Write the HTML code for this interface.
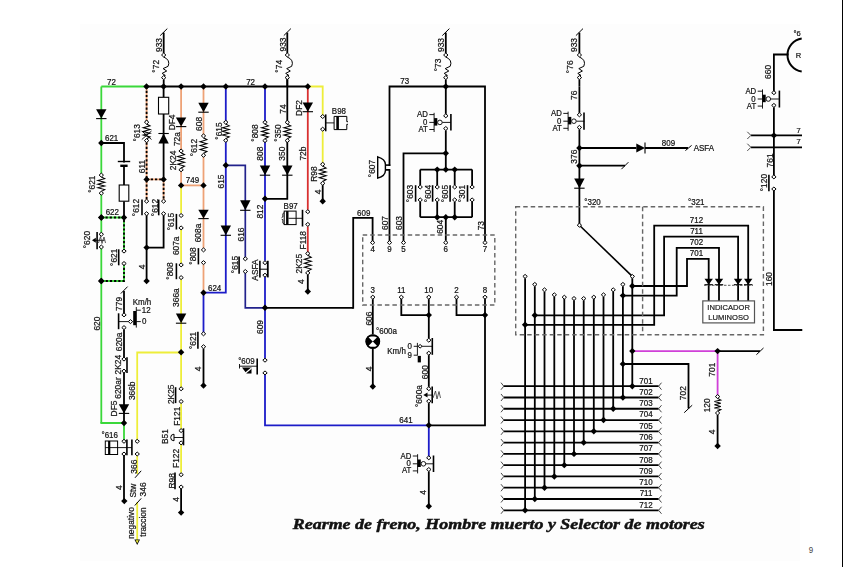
<!DOCTYPE html>
<html><head><meta charset="utf-8"><title>Schematic</title>
<style>html,body{margin:0;padding:0;background:#fff;width:843px;height:567px;overflow:hidden}
svg{display:block;font-family:"Liberation Sans",sans-serif}</style></head>
<body>
<svg width="843" height="567" viewBox="0 0 843 567" font-family="Liberation Sans, sans-serif">
<rect x="0" y="0" width="843" height="567" fill="#fff"/>
<rect x="80" y="24" width="720" height="537" fill="#fdfdfd"/>
<line x1="101.3" y1="86.5" x2="146.5" y2="86.5" stroke="#3ad83a" stroke-width="1.8" stroke-linecap="butt" />
<line x1="146.5" y1="86.5" x2="308.2" y2="86.5" stroke="#000" stroke-width="1.8" stroke-linecap="butt" />
<polyline points="308.2,86.5 322.7,86.5 322.7,116.5" fill="none" stroke="#eeee3a" stroke-width="1.8" stroke-linejoin="miter" stroke-linecap="square" />
<line x1="163.7" y1="32.6" x2="163.7" y2="53.3" stroke="#000" stroke-width="1.8" stroke-linecap="butt" />
<line x1="163.7" y1="79.5" x2="163.7" y2="86.5" stroke="#000" stroke-width="1.8" stroke-linecap="butt" />
<line x1="287.3" y1="32.6" x2="287.3" y2="53.3" stroke="#000" stroke-width="1.8" stroke-linecap="butt" />
<line x1="287.3" y1="79.5" x2="287.3" y2="86.5" stroke="#000" stroke-width="1.8" stroke-linecap="butt" />
<line x1="101.3" y1="86.5" x2="101.3" y2="233.8" stroke="#3ad83a" stroke-width="1.8" stroke-linecap="butt" />
<line x1="101.3" y1="246.8" x2="101.3" y2="423" stroke="#3ad83a" stroke-width="1.8" stroke-linecap="butt" />
<polyline points="101.3,423 124,423 124,441.3" fill="none" stroke="#3ad83a" stroke-width="1.8" stroke-linejoin="miter" stroke-linecap="square" />
<polyline points="101.3,143 124,143 124,161.5" fill="none" stroke="#000" stroke-width="1.8" stroke-linejoin="miter" stroke-linecap="square" />
<line x1="120.3" y1="165.8" x2="127.6" y2="165.8" stroke="#000" stroke-width="2.4" stroke-linecap="butt" />
<line x1="124" y1="166" x2="124" y2="185" stroke="#000" stroke-width="1.8" stroke-linecap="butt" />
<line x1="124" y1="201.2" x2="124" y2="217.5" stroke="#000" stroke-width="1.8" stroke-linecap="butt" />
<polyline points="101.3,217.5 124,217.5 124,251.1" fill="none" stroke="#3ad83a" stroke-width="1.8" stroke-linejoin="miter" stroke-linecap="square" />
<polyline points="101.3,217.5 124,217.5 124,251.1" fill="none" stroke="#000" stroke-width="1.8" stroke-dasharray="2.2 2" stroke-linecap="butt"/>
<polyline points="124,263.5 124,281 101.3,281" fill="none" stroke="#3ad83a" stroke-width="1.8" stroke-linejoin="miter" stroke-linecap="square" />
<polyline points="124,263.5 124,281 101.3,281" fill="none" stroke="#000" stroke-width="1.8" stroke-dasharray="2.2 2" stroke-linecap="butt"/>
<line x1="124" y1="291" x2="124" y2="313.1" stroke="#000" stroke-width="1.8" stroke-linecap="butt" />
<line x1="124" y1="329.4" x2="124" y2="357.3" stroke="#000" stroke-width="1.8" stroke-linecap="butt" />
<line x1="124" y1="372.9" x2="124" y2="423" stroke="#000" stroke-width="1.8" stroke-linecap="butt" />
<line x1="124" y1="455.8" x2="124" y2="501.1" stroke="#000" stroke-width="1.8" stroke-linecap="butt" />
<polyline points="181.1,352.5 137.2,352.5 137.2,439.4" fill="none" stroke="#eeee3a" stroke-width="1.8" stroke-linejoin="miter" stroke-linecap="square" />
<line x1="137.2" y1="455.9" x2="137.2" y2="474" stroke="#eeee3a" stroke-width="1.8" stroke-linecap="butt" />
<line x1="137.2" y1="502" x2="137.2" y2="541" stroke="#eeee3a" stroke-width="1.8" stroke-linecap="butt" />
<polyline points="146.6,86.5 146.6,122.2" fill="none" stroke="#eea276" stroke-width="1.8" stroke-linejoin="miter" stroke-linecap="square" />
<polyline points="146.6,86.5 146.6,122.2" fill="none" stroke="#000" stroke-width="1.8" stroke-dasharray="2.2 2" stroke-linecap="butt"/>
<polyline points="146.6,142.5 146.6,199.3" fill="none" stroke="#eea276" stroke-width="1.8" stroke-linejoin="miter" stroke-linecap="square" />
<polyline points="146.6,142.5 146.6,199.3" fill="none" stroke="#000" stroke-width="1.8" stroke-dasharray="2.2 2" stroke-linecap="butt"/>
<polyline points="146.6,179.4 163.6,179.4" fill="none" stroke="#eea276" stroke-width="1.8" stroke-linejoin="miter" stroke-linecap="square" />
<polyline points="146.6,179.4 163.6,179.4" fill="none" stroke="#000" stroke-width="1.8" stroke-dasharray="2.2 2" stroke-linecap="butt"/>
<polyline points="163.6,179.4 163.6,199.3" fill="none" stroke="#eea276" stroke-width="1.8" stroke-linejoin="miter" stroke-linecap="square" />
<polyline points="163.6,179.4 163.6,199.3" fill="none" stroke="#000" stroke-width="1.8" stroke-dasharray="2.2 2" stroke-linecap="butt"/>
<polyline points="146.6,215.6 146.6,281.1" fill="none" stroke="#000" stroke-width="1.8" stroke-linejoin="miter" stroke-linecap="square" />
<polyline points="146.6,247.6 163.6,247.6 163.6,215.6" fill="none" stroke="#000" stroke-width="1.8" stroke-linejoin="miter" stroke-linecap="square" />
<line x1="163.6" y1="86.5" x2="163.6" y2="97.2" stroke="#000" stroke-width="1.8" stroke-linecap="butt" />
<line x1="163.6" y1="114" x2="163.6" y2="179.4" stroke="#000" stroke-width="1.8" stroke-linecap="butt" />
<line x1="181.1" y1="86.5" x2="181.1" y2="185.4" stroke="#eea276" stroke-width="1.8" stroke-linecap="butt" />
<line x1="181.1" y1="185.4" x2="203.5" y2="185.4" stroke="#eea276" stroke-width="1.8" stroke-linecap="butt" />
<line x1="181.1" y1="185.4" x2="181.1" y2="213.6" stroke="#eeee3a" stroke-width="1.8" stroke-linecap="butt" />
<line x1="181.1" y1="229.8" x2="181.1" y2="263" stroke="#eeee3a" stroke-width="1.8" stroke-linecap="butt" />
<line x1="181.1" y1="279.5" x2="181.1" y2="386.9" stroke="#eeee3a" stroke-width="1.8" stroke-linecap="butt" />
<line x1="181.1" y1="403.4" x2="181.1" y2="428.7" stroke="#eeee3a" stroke-width="1.8" stroke-linecap="butt" />
<line x1="181.1" y1="444.8" x2="181.1" y2="472.8" stroke="#eeee3a" stroke-width="1.8" stroke-linecap="butt" />
<line x1="181.1" y1="488.8" x2="181.1" y2="512.6" stroke="#000" stroke-width="1.8" stroke-linecap="butt" />
<line x1="203.5" y1="86.5" x2="203.5" y2="248" stroke="#eea276" stroke-width="1.8" stroke-linecap="butt" />
<line x1="203.5" y1="264.5" x2="203.5" y2="292.7" stroke="#eea276" stroke-width="1.8" stroke-linecap="butt" />
<polyline points="225.8,86.5 225.8,292.7 203.5,292.7 203.5,332" fill="none" stroke="#1c1cc8" stroke-width="1.8" stroke-linejoin="miter" stroke-linecap="square" />
<polyline points="225.8,165.3 245.3,165.3 245.3,256.9" fill="none" stroke="#22228c" stroke-width="1.7" stroke-linejoin="miter" stroke-linecap="square" />
<polyline points="245.3,273.4 245.3,307.8 265,307.8" fill="none" stroke="#22228c" stroke-width="1.7" stroke-linejoin="miter" stroke-linecap="square" />
<line x1="203.5" y1="348.5" x2="203.5" y2="385.6" stroke="#000" stroke-width="1.8" stroke-linecap="butt" />
<line x1="265" y1="86.5" x2="265" y2="260.8" stroke="#1c1cc8" stroke-width="1.8" stroke-linecap="butt" />
<line x1="265" y1="277.1" x2="265" y2="358.3" stroke="#1c1cc8" stroke-width="1.8" stroke-linecap="butt" />
<polyline points="265,374.8 265,425.3 428.8,425.3 428.8,455.9" fill="none" stroke="#1c1cc8" stroke-width="1.8" stroke-linejoin="miter" stroke-linecap="square" />
<line x1="267.8" y1="260.8" x2="267.8" y2="277.4" stroke="#000" stroke-width="1.8" stroke-linecap="butt" />
<polyline points="265,198.8 287.3,198.8 287.3,79.5" fill="none" stroke="#000" stroke-width="1.8" stroke-linejoin="miter" stroke-linecap="square" />
<line x1="307.8" y1="86.5" x2="307.8" y2="209.8" stroke="#d83030" stroke-width="1.8" stroke-linecap="butt" />
<line x1="307.8" y1="226.3" x2="307.8" y2="253.5" stroke="#d83030" stroke-width="1.8" stroke-linecap="butt" />
<line x1="307.8" y1="274.7" x2="307.8" y2="291.5" stroke="#000" stroke-width="1.8" stroke-linecap="butt" />
<line x1="322.7" y1="131.1" x2="322.7" y2="164.3" stroke="#eeee3a" stroke-width="1.8" stroke-linecap="butt" />
<line x1="322.7" y1="185.1" x2="322.7" y2="201.2" stroke="#000" stroke-width="1.8" stroke-linecap="butt" />
<line x1="445.8" y1="32.6" x2="445.8" y2="53.3" stroke="#000" stroke-width="1.8" stroke-linecap="butt" />
<line x1="445.8" y1="79.5" x2="445.8" y2="86.5" stroke="#000" stroke-width="1.8" stroke-linecap="butt" />
<polyline points="389.5,165.1 389.5,86.5 485,86.5 485,240.7" fill="none" stroke="#000" stroke-width="1.8" stroke-linejoin="miter" stroke-linecap="square" />
<polyline points="389.5,165.1 385.4,165.1" fill="none" stroke="#000" stroke-width="1.6" stroke-linejoin="miter" stroke-linecap="square" />
<polyline points="385.4,169.8 389.5,169.8 389.5,240.7" fill="none" stroke="#000" stroke-width="1.8" stroke-linejoin="miter" stroke-linecap="square" />
<line x1="445.8" y1="86.5" x2="445.8" y2="113.9" stroke="#000" stroke-width="1.8" stroke-linecap="butt" />
<line x1="445.8" y1="130.4" x2="445.8" y2="169.6" stroke="#000" stroke-width="1.8" stroke-linecap="butt" />
<polyline points="445.8,153.3 403.5,153.3 403.5,240.7" fill="none" stroke="#000" stroke-width="1.8" stroke-linejoin="miter" stroke-linecap="square" />
<line x1="420.2" y1="169.6" x2="472.1" y2="169.6" stroke="#000" stroke-width="1.8" stroke-linecap="butt" />
<line x1="420.2" y1="217.2" x2="472.1" y2="217.2" stroke="#000" stroke-width="1.8" stroke-linecap="butt" />
<line x1="420.2" y1="169.6" x2="420.2" y2="185.1" stroke="#000" stroke-width="1.8" stroke-linecap="butt" />
<line x1="420.2" y1="201.8" x2="420.2" y2="217.2" stroke="#000" stroke-width="1.8" stroke-linecap="butt" />
<line x1="437.2" y1="169.6" x2="437.2" y2="185.1" stroke="#000" stroke-width="1.8" stroke-linecap="butt" />
<line x1="437.2" y1="201.8" x2="437.2" y2="217.2" stroke="#000" stroke-width="1.8" stroke-linecap="butt" />
<line x1="454.7" y1="169.6" x2="454.7" y2="185.1" stroke="#000" stroke-width="1.8" stroke-linecap="butt" />
<line x1="454.7" y1="201.8" x2="454.7" y2="217.2" stroke="#000" stroke-width="1.8" stroke-linecap="butt" />
<line x1="472.1" y1="169.6" x2="472.1" y2="185.1" stroke="#000" stroke-width="1.8" stroke-linecap="butt" />
<line x1="472.1" y1="201.8" x2="472.1" y2="217.2" stroke="#000" stroke-width="1.8" stroke-linecap="butt" />
<line x1="445.8" y1="217.2" x2="445.8" y2="240.7" stroke="#000" stroke-width="1.8" stroke-linecap="butt" />
<polyline points="353.2,307.8 353.2,217.9 372.6,217.9 372.6,240.7" fill="none" stroke="#000" stroke-width="1.8" stroke-linejoin="miter" stroke-linecap="square" />
<line x1="265" y1="307.8" x2="353.2" y2="307.8" stroke="#000" stroke-width="1.8" stroke-linecap="butt" />
<line x1="372.8" y1="299.1" x2="372.8" y2="334" stroke="#000" stroke-width="1.8" stroke-linecap="butt" />
<line x1="372.8" y1="349" x2="372.8" y2="386.5" stroke="#000" stroke-width="1.8" stroke-linecap="butt" />
<polyline points="401.3,299.1 401.3,315.1 428.8,315.1" fill="none" stroke="#000" stroke-width="1.8" stroke-linejoin="miter" stroke-linecap="square" />
<line x1="428.8" y1="299.1" x2="428.8" y2="338.3" stroke="#000" stroke-width="1.8" stroke-linecap="butt" />
<line x1="428.8" y1="355.1" x2="428.8" y2="386.8" stroke="#000" stroke-width="1.8" stroke-linecap="butt" />
<line x1="428.8" y1="403.1" x2="428.8" y2="425.3" stroke="#000" stroke-width="1.8" stroke-linecap="butt" />
<polyline points="428.8,425.3 485,425.3 485,299.1" fill="none" stroke="#000" stroke-width="1.8" stroke-linejoin="miter" stroke-linecap="square" />
<polyline points="456.5,299.1 456.5,315.1 485,315.1" fill="none" stroke="#000" stroke-width="1.8" stroke-linejoin="miter" stroke-linecap="square" />
<line x1="428.8" y1="471.4" x2="428.8" y2="506.3" stroke="#000" stroke-width="1.8" stroke-linecap="butt" />
<line x1="579.4" y1="32.6" x2="579.4" y2="53.3" stroke="#000" stroke-width="1.8" stroke-linecap="butt" />
<line x1="579.4" y1="79.5" x2="579.4" y2="86.5" stroke="#000" stroke-width="1.8" stroke-linecap="butt" />
<line x1="579.4" y1="86.5" x2="579.4" y2="112.9" stroke="#000" stroke-width="1.8" stroke-linecap="butt" />
<line x1="579.4" y1="129.3" x2="579.4" y2="225.2" stroke="#000" stroke-width="1.8" stroke-linecap="butt" />
<line x1="579.4" y1="148" x2="636.3" y2="148" stroke="#000" stroke-width="1.8" stroke-linecap="butt" />
<line x1="645" y1="148" x2="688" y2="148" stroke="#000" stroke-width="1.8" stroke-linecap="butt" />
<line x1="579.4" y1="165.7" x2="625" y2="165.7" stroke="#000" stroke-width="1.8" stroke-linecap="butt" />
<line x1="525.1" y1="278.2" x2="525.1" y2="510.28" stroke="#000" stroke-width="1.8" stroke-linecap="butt" />
<line x1="534.8" y1="286.2" x2="534.8" y2="499" stroke="#000" stroke-width="1.8" stroke-linecap="butt" />
<line x1="544.5" y1="291.6" x2="544.5" y2="487.72" stroke="#000" stroke-width="1.8" stroke-linecap="butt" />
<line x1="554.3" y1="296.6" x2="554.3" y2="476.44" stroke="#000" stroke-width="1.8" stroke-linecap="butt" />
<line x1="564.3" y1="299" x2="564.3" y2="465.16" stroke="#000" stroke-width="1.8" stroke-linecap="butt" />
<line x1="574" y1="300.3" x2="574" y2="453.88" stroke="#000" stroke-width="1.8" stroke-linecap="butt" />
<line x1="583.7" y1="300.3" x2="583.7" y2="442.6" stroke="#000" stroke-width="1.8" stroke-linecap="butt" />
<line x1="593.8" y1="299" x2="593.8" y2="431.32" stroke="#000" stroke-width="1.8" stroke-linecap="butt" />
<line x1="603.5" y1="296.6" x2="603.5" y2="420.04" stroke="#000" stroke-width="1.8" stroke-linecap="butt" />
<line x1="613.2" y1="291.6" x2="613.2" y2="408.76" stroke="#000" stroke-width="1.8" stroke-linecap="butt" />
<line x1="622.9" y1="286.2" x2="622.9" y2="397.48" stroke="#000" stroke-width="1.8" stroke-linecap="butt" />
<line x1="632.3" y1="278.2" x2="632.3" y2="386.2" stroke="#000" stroke-width="1.8" stroke-linecap="butt" />
<line x1="503.8" y1="386.2" x2="658.6" y2="386.2" stroke="#000" stroke-width="1.8" stroke-linecap="butt" />
<line x1="503.8" y1="397.48" x2="658.6" y2="397.48" stroke="#000" stroke-width="1.8" stroke-linecap="butt" />
<line x1="503.8" y1="408.76" x2="658.6" y2="408.76" stroke="#000" stroke-width="1.8" stroke-linecap="butt" />
<line x1="503.8" y1="420.04" x2="658.6" y2="420.04" stroke="#000" stroke-width="1.8" stroke-linecap="butt" />
<line x1="503.8" y1="431.32" x2="658.6" y2="431.32" stroke="#000" stroke-width="1.8" stroke-linecap="butt" />
<line x1="503.8" y1="442.6" x2="658.6" y2="442.6" stroke="#000" stroke-width="1.8" stroke-linecap="butt" />
<line x1="503.8" y1="453.88" x2="658.6" y2="453.88" stroke="#000" stroke-width="1.8" stroke-linecap="butt" />
<line x1="503.8" y1="465.16" x2="658.6" y2="465.16" stroke="#000" stroke-width="1.8" stroke-linecap="butt" />
<line x1="503.8" y1="476.44" x2="658.6" y2="476.44" stroke="#000" stroke-width="1.8" stroke-linecap="butt" />
<line x1="503.8" y1="487.72" x2="658.6" y2="487.72" stroke="#000" stroke-width="1.8" stroke-linecap="butt" />
<line x1="503.8" y1="499" x2="658.6" y2="499" stroke="#000" stroke-width="1.8" stroke-linecap="butt" />
<line x1="503.8" y1="510.28" x2="658.6" y2="510.28" stroke="#000" stroke-width="1.8" stroke-linecap="butt" />
<polyline points="632.3,286 687,286 687,258.8 708.7,258.8 708.7,300.9" fill="none" stroke="#000" stroke-width="1.8" stroke-linejoin="miter" stroke-linecap="square" />
<polyline points="622.9,295.6 676.7,295.6 676.7,247.9 719,247.9 719,300.9" fill="none" stroke="#000" stroke-width="1.8" stroke-linejoin="miter" stroke-linecap="square" />
<polyline points="534.8,315.3 664.1,315.3 664.1,236.6 738.1,236.6 738.1,300.9" fill="none" stroke="#000" stroke-width="1.8" stroke-linejoin="miter" stroke-linecap="square" />
<polyline points="525.1,324.8 654.2,324.8 654.2,225.6 748.2,225.6 748.2,300.9" fill="none" stroke="#000" stroke-width="1.8" stroke-linejoin="miter" stroke-linecap="square" />
<polyline points="632.3,351.1 717.6,351.1 717.6,394.7" fill="none" stroke="#d040d8" stroke-width="1.8" stroke-linejoin="miter" stroke-linecap="square" />
<line x1="717.6" y1="351.1" x2="760" y2="351.1" stroke="#000" stroke-width="1.8" stroke-linecap="butt" />
<line x1="717.6" y1="414.8" x2="717.6" y2="446" stroke="#000" stroke-width="1.8" stroke-linecap="butt" />
<polyline points="622.9,364 688.5,364 688.5,407.5" fill="none" stroke="#000" stroke-width="1.8" stroke-linejoin="miter" stroke-linecap="square" />
<polyline points="773.9,90.8 773.9,54.5 787.7,54.5" fill="none" stroke="#000" stroke-width="1.8" stroke-linejoin="miter" stroke-linecap="square" />
<line x1="773.9" y1="107.3" x2="773.9" y2="175" stroke="#000" stroke-width="1.8" stroke-linecap="butt" />
<line x1="750.9" y1="135.4" x2="802" y2="135.4" stroke="#000" stroke-width="1.8" stroke-linecap="butt" />
<line x1="750.9" y1="147.3" x2="802" y2="147.3" stroke="#000" stroke-width="1.8" stroke-linecap="butt" />
<polyline points="773.9,190.9 773.9,330 802,330" fill="none" stroke="#000" stroke-width="1.8" stroke-linejoin="miter" stroke-linecap="square" />
<rect x="99.3" y="176.1" width="4" height="16.1" fill="#fff"/>
<rect x="144.6" y="123.2" width="4" height="16.4" fill="#fff"/>
<rect x="179.1" y="152" width="4" height="16.8" fill="#fff"/>
<rect x="201.5" y="136.9" width="4" height="17.4" fill="#fff"/>
<rect x="223.8" y="123.3" width="4" height="16.1" fill="#fff"/>
<rect x="263" y="123.3" width="4" height="16.3" fill="#fff"/>
<rect x="285.3" y="123.3" width="4" height="16.3" fill="#fff"/>
<rect x="305.8" y="254.5" width="4" height="17.4" fill="#fff"/>
<rect x="320.7" y="165.3" width="4" height="17" fill="#fff"/>
<rect x="715.6" y="397.6" width="4" height="14.4" fill="#fff"/>
<line x1="160.2" y1="35.6" x2="167.3" y2="28.6" stroke="#000" stroke-width="1" stroke-linecap="butt" />
<path d="M163.7,57 Q170.7,60 168.1,66.3 L163.1,68.6 L166.7,71 L162.1,73.4 L165.3,75.4 L163.7,76" fill="none" stroke="#000" stroke-width="1"/>
<line x1="283.8" y1="35.6" x2="290.9" y2="28.6" stroke="#000" stroke-width="1" stroke-linecap="butt" />
<path d="M287.3,57 Q294.3,60 291.7,66.3 L286.7,68.6 L290.3,71 L285.7,73.4 L288.9,75.4 L287.3,76" fill="none" stroke="#000" stroke-width="1"/>
<polygon points="96.1,109.3 106.5,109.3 101.3,118.6" fill="#000"/>
<line x1="96.1" y1="118.6" x2="106.5" y2="118.6" stroke="#000" stroke-width="1.1" stroke-linecap="butt" />
<polyline points="101.3,176.9 104.7,178.71 97.9,180.53 104.7,182.34 97.9,184.15 104.7,185.96 97.9,187.78 104.7,189.59 101.3,191.4" fill="none" stroke="#000" stroke-width="1.05"/>
<line x1="97.1" y1="232.1" x2="97.1" y2="249.2" stroke="#000" stroke-width="1.6" stroke-linecap="butt" />
<line x1="94.5" y1="240.3" x2="104.5" y2="240.3" stroke="#000" stroke-width="0.9" stroke-linecap="butt" />
<polygon points="92,240.3 95.8,237.8 95.8,242.8" fill="#000"/>
<path d="M98.5,243 L100.5,236.5 L102,243.5 L104,237 L105.5,243" fill="none" stroke="#333" stroke-width="0.8"/>
<line x1="117.8" y1="161.5" x2="130.2" y2="161.5" stroke="#000" stroke-width="1.4" stroke-linecap="butt" />
<rect x="119.2" y="185" width="9.6" height="16.2" fill="#fff" stroke="#000" stroke-width="1.1"/>
<line x1="118.7" y1="249.3" x2="118.7" y2="265.3" stroke="#000" stroke-width="1.6" stroke-linecap="butt" />
<line x1="120.8" y1="293.6" x2="127.6" y2="286.6" stroke="#000" stroke-width="1" stroke-linecap="butt" />
<line x1="118.6" y1="313.3" x2="118.6" y2="329.2" stroke="#000" stroke-width="1.6" stroke-linecap="butt" />
<line x1="118.6" y1="321.6" x2="128.6" y2="321.6" stroke="#000" stroke-width="0.9" stroke-linecap="butt" />
<line x1="136.3" y1="307" x2="136.3" y2="327.6" stroke="#000" stroke-width="0.9" stroke-linecap="butt" />
<rect x="133.2" y="311" width="3.1" height="14.2" fill="#000"/>
<line x1="136.3" y1="310.2" x2="140.8" y2="310.2" stroke="#000" stroke-width="0.9" stroke-linecap="butt" />
<line x1="136.3" y1="321.6" x2="140.8" y2="321.6" stroke="#000" stroke-width="0.9" stroke-linecap="butt" />
<line x1="127" y1="357.2" x2="127" y2="373" stroke="#000" stroke-width="1.6" stroke-linecap="butt" />
<polygon points="118.8,404.2 129.2,404.2 124,413.4" fill="#000"/>
<line x1="118.8" y1="413.4" x2="129.2" y2="413.4" stroke="#000" stroke-width="1.1" stroke-linecap="butt" />
<line x1="126.9" y1="439.4" x2="126.9" y2="455.3" stroke="#000" stroke-width="1.6" stroke-linecap="butt" />
<line x1="131.9" y1="439.4" x2="131.9" y2="455.3" stroke="#000" stroke-width="1.6" stroke-linecap="butt" />
<line x1="105.3" y1="447.6" x2="131.9" y2="447.6" stroke="#000" stroke-width="0.9" stroke-linecap="butt" />
<rect x="105.3" y="441" width="12.3" height="13.5" fill="none" stroke="#000" stroke-width="1"/>
<rect x="108.1" y="441" width="2.2" height="13.5" fill="#000"/>
<line x1="135" y1="477.8" x2="141.2" y2="470.8" stroke="#000" stroke-width="1" stroke-linecap="butt" />
<line x1="134.8" y1="505.5" x2="141.2" y2="498.4" stroke="#000" stroke-width="1" stroke-linecap="butt" />
<polygon points="134.4,539.5 140,539.5 137.2,545" fill="#000"/>
<polygon points="135.6,540.2 138.8,540.2 137.2,543.2" fill="#eeee3a"/>
<polyline points="146.6,124 150,125.85 143.2,127.7 150,129.55 143.2,131.4 150,133.25 143.2,135.1 150,136.95 146.6,138.8" fill="none" stroke="#000" stroke-width="1.05"/>
<line x1="141.8" y1="139.5" x2="151.5" y2="131" stroke="#000" stroke-width="0.9" stroke-linecap="butt" />
<line x1="141.8" y1="131" x2="151.5" y2="139.5" stroke="#000" stroke-width="0.9" stroke-linecap="butt" />
<line x1="142" y1="199.6" x2="142" y2="215.3" stroke="#000" stroke-width="1.6" stroke-linecap="butt" />
<line x1="158.7" y1="199.6" x2="158.7" y2="215.3" stroke="#000" stroke-width="1.6" stroke-linecap="butt" />
<rect x="158.5" y="97.3" width="10.2" height="16.7" fill="#fff" stroke="#000" stroke-width="1.1"/>
<polygon points="158.4,143.4 168.8,143.4 163.6,133.5" fill="#000"/>
<line x1="158.4" y1="133.5" x2="168.8" y2="133.5" stroke="#000" stroke-width="1.1" stroke-linecap="butt" />
<polygon points="175.9,117.4 186.3,117.4 181.1,126.6" fill="#000"/>
<line x1="175.9" y1="126.6" x2="186.3" y2="126.6" stroke="#000" stroke-width="1.1" stroke-linecap="butt" />
<polyline points="181.1,152.8 184.5,154.7 177.7,156.6 184.5,158.5 177.7,160.4 184.5,162.3 177.7,164.2 184.5,166.1 181.1,168" fill="none" stroke="#000" stroke-width="1.05"/>
<line x1="176.4" y1="213.9" x2="176.4" y2="229.5" stroke="#000" stroke-width="1.6" stroke-linecap="butt" />
<line x1="176.4" y1="263.3" x2="176.4" y2="279.2" stroke="#000" stroke-width="1.6" stroke-linecap="butt" />
<polygon points="175.9,313.5 186.3,313.5 181.1,323.2" fill="#000"/>
<line x1="175.9" y1="323.2" x2="186.3" y2="323.2" stroke="#000" stroke-width="1.1" stroke-linecap="butt" />
<line x1="175.6" y1="387.2" x2="175.6" y2="403.1" stroke="#000" stroke-width="1.6" stroke-linecap="butt" />
<line x1="183.5" y1="428.3" x2="183.5" y2="445.3" stroke="#000" stroke-width="1.6" stroke-linecap="butt" />
<line x1="174" y1="437.5" x2="183.5" y2="437.5" stroke="#000" stroke-width="0.9" stroke-linecap="butt" />
<path d="M174,434.2 A3.3,3.3 0 0 0 174,440.8 Z" fill="#fff" stroke="#000" stroke-width="1"/>
<line x1="175" y1="472.5" x2="175" y2="489.2" stroke="#000" stroke-width="1.6" stroke-linecap="butt" />
<polygon points="198.3,102.7 208.7,102.7 203.5,112.2" fill="#000"/>
<line x1="198.3" y1="112.2" x2="208.7" y2="112.2" stroke="#000" stroke-width="1.1" stroke-linecap="butt" />
<polyline points="203.5,137.7 206.9,139.68 200.1,141.65 206.9,143.63 200.1,145.6 206.9,147.58 200.1,149.55 206.9,151.53 203.5,153.5" fill="none" stroke="#000" stroke-width="1.05"/>
<polygon points="198.3,209.7 208.7,209.7 203.5,218.6" fill="#000"/>
<line x1="198.3" y1="218.6" x2="208.7" y2="218.6" stroke="#000" stroke-width="1.1" stroke-linecap="butt" />
<line x1="198.4" y1="248.1" x2="198.4" y2="264.4" stroke="#000" stroke-width="1.6" stroke-linecap="butt" />
<polyline points="225.8,124.1 229.2,125.91 222.4,127.72 229.2,129.54 222.4,131.35 229.2,133.16 222.4,134.97 229.2,136.79 225.8,138.6" fill="none" stroke="#000" stroke-width="1.05"/>
<polygon points="220.6,225.6 231,225.6 225.8,235.3" fill="#000"/>
<line x1="220.6" y1="235.3" x2="231" y2="235.3" stroke="#000" stroke-width="1.1" stroke-linecap="butt" />
<polygon points="240.1,200.2 250.5,200.2 245.3,210.3" fill="#000"/>
<line x1="240.1" y1="210.3" x2="250.5" y2="210.3" stroke="#000" stroke-width="1.1" stroke-linecap="butt" />
<line x1="239.1" y1="256.6" x2="239.1" y2="273.7" stroke="#000" stroke-width="1.6" stroke-linecap="butt" />
<line x1="197.9" y1="331.8" x2="197.9" y2="348.7" stroke="#000" stroke-width="1.6" stroke-linecap="butt" />
<polyline points="265,124.1 268.4,125.94 261.6,127.77 268.4,129.61 261.6,131.45 268.4,133.29 261.6,135.12 268.4,136.96 265,138.8" fill="none" stroke="#000" stroke-width="1.05"/>
<polygon points="259.8,165.6 270.2,165.6 265,175.2" fill="#000"/>
<line x1="259.8" y1="175.2" x2="270.2" y2="175.2" stroke="#000" stroke-width="1.1" stroke-linecap="butt" />
<line x1="259.9" y1="260.8" x2="259.9" y2="277.4" stroke="#000" stroke-width="1.6" stroke-linecap="butt" />
<line x1="259.9" y1="269.2" x2="267.8" y2="269.2" stroke="#000" stroke-width="1" stroke-linecap="butt" />
<line x1="257.2" y1="358.4" x2="257.2" y2="374.6" stroke="#000" stroke-width="1.6" stroke-linecap="butt" />
<line x1="239.5" y1="366.2" x2="257.2" y2="366.2" stroke="#000" stroke-width="0.9" stroke-linecap="butt" />
<line x1="239.5" y1="364" x2="239.5" y2="368.5" stroke="#000" stroke-width="0.9" stroke-linecap="butt" />
<polygon points="242,367.5 251.5,367.5 251.5,373.5 246.5,373.5" fill="#000"/>
<line x1="244.5" y1="374" x2="251.5" y2="368" stroke="#fff" stroke-width="1.2"/>
<polyline points="287.3,124.1 290.7,125.94 283.9,127.77 290.7,129.61 283.9,131.45 290.7,133.29 283.9,135.12 290.7,136.96 287.3,138.8" fill="none" stroke="#000" stroke-width="1.05"/>
<polygon points="282.1,165.6 292.5,165.6 287.3,175.2" fill="#000"/>
<line x1="282.1" y1="175.2" x2="292.5" y2="175.2" stroke="#000" stroke-width="1.1" stroke-linecap="butt" />
<polygon points="302.6,102.4 313,102.4 307.8,111.7" fill="#000"/>
<line x1="302.6" y1="111.7" x2="313" y2="111.7" stroke="#000" stroke-width="1.1" stroke-linecap="butt" />
<line x1="302.5" y1="209.8" x2="302.5" y2="226.5" stroke="#000" stroke-width="1.6" stroke-linecap="butt" />
<line x1="288.5" y1="218.3" x2="302.5" y2="218.3" stroke="#000" stroke-width="0.9" stroke-linecap="butt" />
<rect x="284.2" y="211.1" width="11.9" height="13.5" fill="none" stroke="#000" stroke-width="1"/>
<rect x="286.1" y="211.1" width="2.4" height="13.5" fill="#000"/>
<path d="M284.2,212.6 L282.9,213.6 V216.9 L281.7,217.4 M281.7,219.2 L282.9,219.7 V223.2 L284.2,224.2" fill="none" stroke="#000" stroke-width="0.9"/>
<polyline points="307.8,255.3 311.2,257.28 304.4,259.25 311.2,261.23 304.4,263.2 311.2,265.18 304.4,267.15 311.2,269.12 307.8,271.1" fill="none" stroke="#000" stroke-width="1.05"/>
<line x1="325.7" y1="114.4" x2="325.7" y2="131.3" stroke="#000" stroke-width="1.6" stroke-linecap="butt" />
<line x1="325.7" y1="122.9" x2="334.1" y2="122.9" stroke="#000" stroke-width="0.9" stroke-linecap="butt" />
<path d="M346.8,121.7 H348 M346.8,121.7 V116.4 H334.1 V129.6 H346.8 V124.3 H348" fill="none" stroke="#000" stroke-width="1"/>
<rect x="336.3" y="116.4" width="2.6" height="13.2" fill="#000"/>
<polyline points="322.7,166.1 326.1,168.03 319.3,169.95 326.1,171.88 319.3,173.8 326.1,175.73 319.3,177.65 326.1,179.58 322.7,181.5" fill="none" stroke="#000" stroke-width="1.05"/>
<line x1="442.3" y1="35.6" x2="449.4" y2="28.6" stroke="#000" stroke-width="1" stroke-linecap="butt" />
<path d="M445.8,57 Q452.8,60 450.2,66.3 L445.2,68.6 L448.8,71 L444.2,73.4 L447.4,75.4 L445.8,76" fill="none" stroke="#000" stroke-width="1"/>
<path d="M377.7,156.8 L377.7,178.1 Q385.4,176 385.4,170.5 L385.4,164.4 Q385.4,159 377.7,156.8 Z" fill="#fff" stroke="#000" stroke-width="1.4"/>
<line x1="450.9" y1="113.9" x2="450.9" y2="130.6" stroke="#000" stroke-width="1.6" stroke-linecap="butt" />
<line x1="434.1" y1="112.8" x2="434.1" y2="132" stroke="#000" stroke-width="0.9" stroke-linecap="butt" />
<line x1="429.3" y1="114.6" x2="434.1" y2="114.6" stroke="#000" stroke-width="0.9" stroke-linecap="butt" />
<line x1="429.3" y1="122.4" x2="434.1" y2="122.4" stroke="#000" stroke-width="0.9" stroke-linecap="butt" />
<line x1="429.3" y1="129.5" x2="434.1" y2="129.5" stroke="#000" stroke-width="0.9" stroke-linecap="butt" />
<rect x="434.1" y="118.1" width="3.2" height="7.5" fill="#000"/>
<line x1="442.2" y1="122.4" x2="450.8" y2="122.4" stroke="#000" stroke-width="0.9" stroke-linecap="butt" />
<line x1="415.6" y1="185.2" x2="415.6" y2="201.7" stroke="#000" stroke-width="1.6" stroke-linecap="butt" />
<line x1="432.6" y1="185.2" x2="432.6" y2="201.7" stroke="#000" stroke-width="1.6" stroke-linecap="butt" />
<line x1="450.1" y1="185.2" x2="450.1" y2="201.7" stroke="#000" stroke-width="1.6" stroke-linecap="butt" />
<line x1="467.5" y1="185.2" x2="467.5" y2="201.7" stroke="#000" stroke-width="1.6" stroke-linecap="butt" />
<rect x="362.7" y="235" width="132.1" height="70" fill="none" stroke="#666" stroke-width="1.4" stroke-dasharray="4.5 3"/>
<circle cx="372.8" cy="341.6" r="7.2" fill="#000"/>
<polygon points="367.7,336.5 377.9,336.5 372.8,341.6" fill="#fff"/>
<polygon points="367.7,346.7 377.9,346.7 372.8,341.6" fill="#fff"/>
<circle cx="372.8" cy="341.6" r="6.6" fill="none" stroke="#000" stroke-width="1.6"/>
<line x1="432.3" y1="338" x2="432.3" y2="354.8" stroke="#000" stroke-width="1.6" stroke-linecap="butt" />
<line x1="417.4" y1="342.9" x2="417.4" y2="355.6" stroke="#000" stroke-width="0.9" stroke-linecap="butt" />
<line x1="413.7" y1="346.3" x2="417.4" y2="346.3" stroke="#000" stroke-width="0.9" stroke-linecap="butt" />
<line x1="413.7" y1="355.2" x2="417.4" y2="355.2" stroke="#000" stroke-width="0.9" stroke-linecap="butt" />
<rect x="417.7" y="355.9" width="3.2" height="6.5" fill="#000"/>
<line x1="422" y1="346.3" x2="432.3" y2="346.3" stroke="#000" stroke-width="0.9" stroke-linecap="butt" />
<line x1="432.2" y1="386.6" x2="432.2" y2="403.3" stroke="#000" stroke-width="1.6" stroke-linecap="butt" />
<line x1="426" y1="395.1" x2="432.2" y2="395.1" stroke="#000" stroke-width="0.9" stroke-linecap="butt" />
<polygon points="423.3,395.1 427.5,392.6 427.5,397.6" fill="#000"/>
<path d="M433,398 L435.5,391 L437,399 L439,391.5 L440.5,398" fill="none" stroke="#333" stroke-width="0.8"/>
<line x1="433.5" y1="455.5" x2="433.5" y2="472" stroke="#000" stroke-width="1.6" stroke-linecap="butt" />
<line x1="417.6" y1="454.2" x2="417.6" y2="473.4" stroke="#000" stroke-width="0.9" stroke-linecap="butt" />
<line x1="412.8" y1="456" x2="417.6" y2="456" stroke="#000" stroke-width="0.9" stroke-linecap="butt" />
<line x1="412.8" y1="463.8" x2="417.6" y2="463.8" stroke="#000" stroke-width="0.9" stroke-linecap="butt" />
<line x1="412.8" y1="470.9" x2="417.6" y2="470.9" stroke="#000" stroke-width="0.9" stroke-linecap="butt" />
<rect x="417.6" y="459.5" width="3.2" height="7.5" fill="#000"/>
<line x1="425.7" y1="463.8" x2="433.8" y2="463.8" stroke="#000" stroke-width="0.9" stroke-linecap="butt" />
<line x1="575.9" y1="35.6" x2="583" y2="28.6" stroke="#000" stroke-width="1" stroke-linecap="butt" />
<path d="M579.4,57 Q586.4,60 583.8,66.3 L578.8,68.6 L582.4,71 L577.8,73.4 L581,75.4 L579.4,76" fill="none" stroke="#000" stroke-width="1"/>
<line x1="584" y1="112.5" x2="584" y2="129.7" stroke="#000" stroke-width="1.6" stroke-linecap="butt" />
<line x1="568.1" y1="111.6" x2="568.1" y2="130.8" stroke="#000" stroke-width="0.9" stroke-linecap="butt" />
<line x1="563.3" y1="113.4" x2="568.1" y2="113.4" stroke="#000" stroke-width="0.9" stroke-linecap="butt" />
<line x1="563.3" y1="121.2" x2="568.1" y2="121.2" stroke="#000" stroke-width="0.9" stroke-linecap="butt" />
<line x1="563.3" y1="128.3" x2="568.1" y2="128.3" stroke="#000" stroke-width="0.9" stroke-linecap="butt" />
<rect x="568.1" y="116.9" width="3.2" height="7.5" fill="#000"/>
<line x1="576.2" y1="121.2" x2="584.4" y2="121.2" stroke="#000" stroke-width="0.9" stroke-linecap="butt" />
<polygon points="636.3,143.4 636.3,152.6 645,148" fill="#000"/>
<line x1="645" y1="142.4" x2="645" y2="153.6" stroke="#000" stroke-width="1.1" stroke-linecap="butt" />
<line x1="685.4" y1="150.6" x2="691.6" y2="145.4" stroke="#000" stroke-width="1" stroke-linecap="butt" />
<line x1="621.4" y1="169.2" x2="628.4" y2="162.2" stroke="#000" stroke-width="1" stroke-linecap="butt" />
<polygon points="574.2,178.6 584.6,178.6 579.4,188.2" fill="#000"/>
<line x1="574.2" y1="188.2" x2="584.6" y2="188.2" stroke="#000" stroke-width="1.1" stroke-linecap="butt" />
<rect x="515.7" y="206.7" width="247.7" height="128.1" fill="none" stroke="#666" stroke-width="1.4" stroke-dasharray="4.5 3"/>
<line x1="642.6" y1="206.7" x2="642.6" y2="334.8" stroke="#666" stroke-width="1.4" stroke-linecap="butt" stroke-dasharray="4.5 3"/>
<line x1="579.4" y1="225.2" x2="632.3" y2="276.4" stroke="#000" stroke-width="1.6" stroke-linecap="butt" />
<path d="M501,382.7 L503.8,386.2 L501,389.7" fill="none" stroke="#333" stroke-width="0.9"/>
<path d="M661.5,382.7 L658.6,386.2 L661.5,389.7" fill="none" stroke="#333" stroke-width="0.9"/>
<path d="M501,393.98 L503.8,397.48 L501,400.98" fill="none" stroke="#333" stroke-width="0.9"/>
<path d="M661.5,393.98 L658.6,397.48 L661.5,400.98" fill="none" stroke="#333" stroke-width="0.9"/>
<path d="M501,405.26 L503.8,408.76 L501,412.26" fill="none" stroke="#333" stroke-width="0.9"/>
<path d="M661.5,405.26 L658.6,408.76 L661.5,412.26" fill="none" stroke="#333" stroke-width="0.9"/>
<path d="M501,416.54 L503.8,420.04 L501,423.54" fill="none" stroke="#333" stroke-width="0.9"/>
<path d="M661.5,416.54 L658.6,420.04 L661.5,423.54" fill="none" stroke="#333" stroke-width="0.9"/>
<path d="M501,427.82 L503.8,431.32 L501,434.82" fill="none" stroke="#333" stroke-width="0.9"/>
<path d="M661.5,427.82 L658.6,431.32 L661.5,434.82" fill="none" stroke="#333" stroke-width="0.9"/>
<path d="M501,439.1 L503.8,442.6 L501,446.1" fill="none" stroke="#333" stroke-width="0.9"/>
<path d="M661.5,439.1 L658.6,442.6 L661.5,446.1" fill="none" stroke="#333" stroke-width="0.9"/>
<path d="M501,450.38 L503.8,453.88 L501,457.38" fill="none" stroke="#333" stroke-width="0.9"/>
<path d="M661.5,450.38 L658.6,453.88 L661.5,457.38" fill="none" stroke="#333" stroke-width="0.9"/>
<path d="M501,461.66 L503.8,465.16 L501,468.66" fill="none" stroke="#333" stroke-width="0.9"/>
<path d="M661.5,461.66 L658.6,465.16 L661.5,468.66" fill="none" stroke="#333" stroke-width="0.9"/>
<path d="M501,472.94 L503.8,476.44 L501,479.94" fill="none" stroke="#333" stroke-width="0.9"/>
<path d="M661.5,472.94 L658.6,476.44 L661.5,479.94" fill="none" stroke="#333" stroke-width="0.9"/>
<path d="M501,484.22 L503.8,487.72 L501,491.22" fill="none" stroke="#333" stroke-width="0.9"/>
<path d="M661.5,484.22 L658.6,487.72 L661.5,491.22" fill="none" stroke="#333" stroke-width="0.9"/>
<path d="M501,495.5 L503.8,499 L501,502.5" fill="none" stroke="#333" stroke-width="0.9"/>
<path d="M661.5,495.5 L658.6,499 L661.5,502.5" fill="none" stroke="#333" stroke-width="0.9"/>
<path d="M501,506.78 L503.8,510.28 L501,513.78" fill="none" stroke="#333" stroke-width="0.9"/>
<path d="M661.5,506.78 L658.6,510.28 L661.5,513.78" fill="none" stroke="#333" stroke-width="0.9"/>
<polygon points="704.5,278.8 712.9,278.8 708.7,284.7" fill="#000"/>
<line x1="704.5" y1="284.7" x2="712.9" y2="284.7" stroke="#000" stroke-width="1.1" stroke-linecap="butt" />
<polygon points="714.8,278.8 723.2,278.8 719,284.7" fill="#000"/>
<line x1="714.8" y1="284.7" x2="723.2" y2="284.7" stroke="#000" stroke-width="1.1" stroke-linecap="butt" />
<polygon points="733.9,278.8 742.3,278.8 738.1,284.7" fill="#000"/>
<line x1="733.9" y1="284.7" x2="742.3" y2="284.7" stroke="#000" stroke-width="1.1" stroke-linecap="butt" />
<polygon points="744,278.8 752.4,278.8 748.2,284.7" fill="#000"/>
<line x1="744" y1="284.7" x2="752.4" y2="284.7" stroke="#000" stroke-width="1.1" stroke-linecap="butt" />
<line x1="704" y1="285.3" x2="753" y2="285.3" stroke="#333" stroke-width="0.8" stroke-linecap="butt" stroke-dasharray="2.5 1.5"/>
<rect x="702.8" y="300.9" width="51.7" height="22" fill="#fff" stroke="#555" stroke-width="1.2"/>
<line x1="756.4" y1="354.7" x2="763.5" y2="348" stroke="#000" stroke-width="1" stroke-linecap="butt" />
<polyline points="717.6,398.4 720.8,400 714.4,401.6 720.8,403.2 714.4,404.8 720.8,406.4 714.4,408 720.8,409.6 717.6,411.2" fill="none" stroke="#000" stroke-width="1.05"/>
<line x1="684.2" y1="412.7" x2="692.2" y2="405.2" stroke="#000" stroke-width="1" stroke-linecap="butt" />
<path d="M801.7,38.4 A16.8,16.8 0 0 0 801.7,71.6" fill="none" stroke="#000" stroke-width="2"/>
<line x1="779.4" y1="90.6" x2="779.4" y2="107.5" stroke="#000" stroke-width="1.6" stroke-linecap="butt" />
<line x1="762.5" y1="89.4" x2="762.5" y2="108.6" stroke="#000" stroke-width="0.9" stroke-linecap="butt" />
<line x1="757.7" y1="91.2" x2="762.5" y2="91.2" stroke="#000" stroke-width="0.9" stroke-linecap="butt" />
<line x1="757.7" y1="99" x2="762.5" y2="99" stroke="#000" stroke-width="0.9" stroke-linecap="butt" />
<line x1="757.7" y1="106.1" x2="762.5" y2="106.1" stroke="#000" stroke-width="0.9" stroke-linecap="butt" />
<rect x="762.5" y="94.7" width="3.2" height="7.5" fill="#000"/>
<line x1="770.6" y1="99" x2="778.9" y2="99" stroke="#000" stroke-width="0.9" stroke-linecap="butt" />
<path d="M747.3,131.8 L750.9,135.4 L747.3,139" fill="none" stroke="#333" stroke-width="0.9"/>
<path d="M747.3,143.7 L750.9,147.3 L747.3,150.9" fill="none" stroke="#333" stroke-width="0.9"/>
<line x1="768.9" y1="174.7" x2="768.9" y2="191.2" stroke="#000" stroke-width="1.6" stroke-linecap="butt" />
<polygon points="146.5,83.3 149.7,86.5 146.5,89.7 143.3,86.5" fill="#000"/>
<polygon points="163.6,83.3 166.8,86.5 163.6,89.7 160.4,86.5" fill="#000"/>
<polygon points="181.1,83.3 184.3,86.5 181.1,89.7 177.9,86.5" fill="#000"/>
<polygon points="203.5,83.3 206.7,86.5 203.5,89.7 200.3,86.5" fill="#000"/>
<polygon points="225.8,83.3 229,86.5 225.8,89.7 222.6,86.5" fill="#000"/>
<polygon points="163.7,53.02 165.9,55 163.7,56.98 161.5,55" fill="#fff" stroke="#000" stroke-width="1"/>
<polygon points="163.7,75.62 165.9,77.6 163.7,79.58 161.5,77.6" fill="#fff" stroke="#000" stroke-width="1"/>
<polygon points="287.3,53.02 289.5,55 287.3,56.98 285.1,55" fill="#fff" stroke="#000" stroke-width="1"/>
<polygon points="287.3,75.62 289.5,77.6 287.3,79.58 285.1,77.6" fill="#fff" stroke="#000" stroke-width="1"/>
<polygon points="101.3,139.8 104.5,143 101.3,146.2 98.1,143" fill="#000"/>
<polygon points="101.3,173.12 103.5,175.1 101.3,177.08 99.1,175.1" fill="#fff" stroke="#000" stroke-width="1"/>
<polygon points="101.3,191.22 103.5,193.2 101.3,195.18 99.1,193.2" fill="#fff" stroke="#000" stroke-width="1"/>
<polygon points="101.3,214.3 104.5,217.5 101.3,220.7 98.1,217.5" fill="#000"/>
<polygon points="101.3,232.32 103.5,234.3 101.3,236.28 99.1,234.3" fill="#fff" stroke="#000" stroke-width="1"/>
<polygon points="101.3,245.02 103.5,247 101.3,248.98 99.1,247" fill="#fff" stroke="#000" stroke-width="1"/>
<polygon points="101.3,277.8 104.5,281 101.3,284.2 98.1,281" fill="#000"/>
<polygon points="101.3,214.3 104.5,217.5 101.3,220.7 98.1,217.5" fill="#000"/>
<polygon points="124,214.3 127.2,217.5 124,220.7 120.8,217.5" fill="#000"/>
<polygon points="101.3,277.8 104.5,281 101.3,284.2 98.1,281" fill="#000"/>
<polygon points="124,249.12 126.2,251.1 124,253.08 121.8,251.1" fill="#fff" stroke="#000" stroke-width="1"/>
<polygon points="124,261.52 126.2,263.5 124,265.48 121.8,263.5" fill="#fff" stroke="#000" stroke-width="1"/>
<polygon points="124,312.92 126.2,314.9 124,316.88 121.8,314.9" fill="#fff" stroke="#000" stroke-width="1"/>
<polygon points="124,325.62 126.2,327.6 124,329.58 121.8,327.6" fill="#fff" stroke="#000" stroke-width="1"/>
<polygon points="130.5,319.62 132.7,321.6 130.5,323.58 128.3,321.6" fill="#fff" stroke="#000" stroke-width="1"/>
<polygon points="124,357.12 126.2,359.1 124,361.08 121.8,359.1" fill="#fff" stroke="#000" stroke-width="1"/>
<polygon points="124,369.12 126.2,371.1 124,373.08 121.8,371.1" fill="#fff" stroke="#000" stroke-width="1"/>
<polygon points="124,419.8 127.2,423 124,426.2 120.8,423" fill="#000"/>
<polygon points="124,439.32 126.2,441.3 124,443.28 121.8,441.3" fill="#fff" stroke="#000" stroke-width="1"/>
<polygon points="124,452.02 126.2,454 124,455.98 121.8,454" fill="#fff" stroke="#000" stroke-width="1"/>
<polygon points="124.3,497.9 127.5,501.1 124.3,504.3 121.1,501.1" fill="#000"/>
<polygon points="137.2,439.32 139.4,441.3 137.2,443.28 135,441.3" fill="#fff" stroke="#000" stroke-width="1"/>
<polygon points="137.2,452.02 139.4,454 137.2,455.98 135,454" fill="#fff" stroke="#000" stroke-width="1"/>
<polygon points="146.6,120.22 148.8,122.2 146.6,124.18 144.4,122.2" fill="#fff" stroke="#000" stroke-width="1"/>
<polygon points="146.6,138.62 148.8,140.6 146.6,142.58 144.4,140.6" fill="#fff" stroke="#000" stroke-width="1"/>
<polygon points="146.6,176.2 149.8,179.4 146.6,182.6 143.4,179.4" fill="#000"/>
<polygon points="163.6,176.2 166.8,179.4 163.6,182.6 160.4,179.4" fill="#000"/>
<polygon points="146.6,199.22 148.8,201.2 146.6,203.18 144.4,201.2" fill="#fff" stroke="#000" stroke-width="1"/>
<polygon points="146.6,211.72 148.8,213.7 146.6,215.68 144.4,213.7" fill="#fff" stroke="#000" stroke-width="1"/>
<polygon points="163.6,199.22 165.8,201.2 163.6,203.18 161.4,201.2" fill="#fff" stroke="#000" stroke-width="1"/>
<polygon points="163.6,211.72 165.8,213.7 163.6,215.68 161.4,213.7" fill="#fff" stroke="#000" stroke-width="1"/>
<polygon points="146.6,244.4 149.8,247.6 146.6,250.8 143.4,247.6" fill="#000"/>
<polygon points="146.6,277.9 149.8,281.1 146.6,284.3 143.4,281.1" fill="#000"/>
<polygon points="181.1,149.02 183.3,151 181.1,152.98 178.9,151" fill="#fff" stroke="#000" stroke-width="1"/>
<polygon points="181.1,167.82 183.3,169.8 181.1,171.78 178.9,169.8" fill="#fff" stroke="#000" stroke-width="1"/>
<polygon points="181.1,182.2 184.3,185.4 181.1,188.6 177.9,185.4" fill="#000"/>
<polygon points="203.5,182.2 206.7,185.4 203.5,188.6 200.3,185.4" fill="#000"/>
<polygon points="181.1,213.52 183.3,215.5 181.1,217.48 178.9,215.5" fill="#fff" stroke="#000" stroke-width="1"/>
<polygon points="181.1,225.92 183.3,227.9 181.1,229.88 178.9,227.9" fill="#fff" stroke="#000" stroke-width="1"/>
<polygon points="181.1,262.92 183.3,264.9 181.1,266.88 178.9,264.9" fill="#fff" stroke="#000" stroke-width="1"/>
<polygon points="181.1,275.62 183.3,277.6 181.1,279.58 178.9,277.6" fill="#fff" stroke="#000" stroke-width="1"/>
<polygon points="181.1,349.1 184.3,352.3 181.1,355.5 177.9,352.3" fill="#000"/>
<polygon points="181.1,386.82 183.3,388.8 181.1,390.78 178.9,388.8" fill="#fff" stroke="#000" stroke-width="1"/>
<polygon points="181.1,399.52 183.3,401.5 181.1,403.48 178.9,401.5" fill="#fff" stroke="#000" stroke-width="1"/>
<polygon points="181.1,428.62 183.3,430.6 181.1,432.58 178.9,430.6" fill="#fff" stroke="#000" stroke-width="1"/>
<polygon points="181.1,440.92 183.3,442.9 181.1,444.88 178.9,442.9" fill="#fff" stroke="#000" stroke-width="1"/>
<polygon points="181.1,472.72 183.3,474.7 181.1,476.68 178.9,474.7" fill="#fff" stroke="#000" stroke-width="1"/>
<polygon points="181.1,485.02 183.3,487 181.1,488.98 178.9,487" fill="#fff" stroke="#000" stroke-width="1"/>
<polygon points="181.1,509.4 184.3,512.6 181.1,515.8 177.9,512.6" fill="#000"/>
<polygon points="203.5,133.92 205.7,135.9 203.5,137.88 201.3,135.9" fill="#fff" stroke="#000" stroke-width="1"/>
<polygon points="203.5,153.32 205.7,155.3 203.5,157.28 201.3,155.3" fill="#fff" stroke="#000" stroke-width="1"/>
<polygon points="203.5,247.92 205.7,249.9 203.5,251.88 201.3,249.9" fill="#fff" stroke="#000" stroke-width="1"/>
<polygon points="203.5,260.62 205.7,262.6 203.5,264.58 201.3,262.6" fill="#fff" stroke="#000" stroke-width="1"/>
<polygon points="203.5,289.5 206.7,292.7 203.5,295.9 200.3,292.7" fill="#000"/>
<polygon points="225.8,120.32 228,122.3 225.8,124.28 223.6,122.3" fill="#fff" stroke="#000" stroke-width="1"/>
<polygon points="225.8,138.42 228,140.4 225.8,142.38 223.6,140.4" fill="#fff" stroke="#000" stroke-width="1"/>
<polygon points="225.8,162.1 229,165.3 225.8,168.5 222.6,165.3" fill="#000"/>
<polygon points="245.3,256.82 247.5,258.8 245.3,260.78 243.1,258.8" fill="#fff" stroke="#000" stroke-width="1"/>
<polygon points="245.3,269.52 247.5,271.5 245.3,273.48 243.1,271.5" fill="#fff" stroke="#000" stroke-width="1"/>
<polygon points="203.5,331.82 205.7,333.8 203.5,335.78 201.3,333.8" fill="#fff" stroke="#000" stroke-width="1"/>
<polygon points="203.5,344.72 205.7,346.7 203.5,348.68 201.3,346.7" fill="#fff" stroke="#000" stroke-width="1"/>
<polygon points="203.5,382.4 206.7,385.6 203.5,388.8 200.3,385.6" fill="#000"/>
<polygon points="265,120.32 267.2,122.3 265,124.28 262.8,122.3" fill="#fff" stroke="#000" stroke-width="1"/>
<polygon points="265,138.62 267.2,140.6 265,142.58 262.8,140.6" fill="#fff" stroke="#000" stroke-width="1"/>
<polygon points="265,195.6 268.2,198.8 265,202 261.8,198.8" fill="#000"/>
<polygon points="265,260.72 267.2,262.7 265,264.68 262.8,262.7" fill="#fff" stroke="#000" stroke-width="1"/>
<polygon points="265,273.22 267.2,275.2 265,277.18 262.8,275.2" fill="#fff" stroke="#000" stroke-width="1"/>
<polygon points="265,304.6 268.2,307.8 265,311 261.8,307.8" fill="#000"/>
<polygon points="265,358.22 267.2,360.2 265,362.18 262.8,360.2" fill="#fff" stroke="#000" stroke-width="1"/>
<polygon points="265,370.92 267.2,372.9 265,374.88 262.8,372.9" fill="#fff" stroke="#000" stroke-width="1"/>
<polygon points="287.3,120.32 289.5,122.3 287.3,124.28 285.1,122.3" fill="#fff" stroke="#000" stroke-width="1"/>
<polygon points="287.3,138.62 289.5,140.6 287.3,142.58 285.1,140.6" fill="#fff" stroke="#000" stroke-width="1"/>
<polygon points="265,83.3 268.2,86.5 265,89.7 261.8,86.5" fill="#000"/>
<polygon points="307.8,83.3 311,86.5 307.8,89.7 304.6,86.5" fill="#000"/>
<polygon points="307.8,209.72 310,211.7 307.8,213.68 305.6,211.7" fill="#fff" stroke="#000" stroke-width="1"/>
<polygon points="307.8,222.42 310,224.4 307.8,226.38 305.6,224.4" fill="#fff" stroke="#000" stroke-width="1"/>
<polygon points="307.8,251.52 310,253.5 307.8,255.48 305.6,253.5" fill="#fff" stroke="#000" stroke-width="1"/>
<polygon points="307.8,270.92 310,272.9 307.8,274.88 305.6,272.9" fill="#fff" stroke="#000" stroke-width="1"/>
<polygon points="307.8,288.3 311,291.5 307.8,294.7 304.6,291.5" fill="#000"/>
<polygon points="322.7,114.52 324.9,116.5 322.7,118.48 320.5,116.5" fill="#fff" stroke="#000" stroke-width="1"/>
<polygon points="322.7,127.22 324.9,129.2 322.7,131.18 320.5,129.2" fill="#fff" stroke="#000" stroke-width="1"/>
<polygon points="322.7,162.32 324.9,164.3 322.7,166.28 320.5,164.3" fill="#fff" stroke="#000" stroke-width="1"/>
<polygon points="322.7,181.32 324.9,183.3 322.7,185.28 320.5,183.3" fill="#fff" stroke="#000" stroke-width="1"/>
<polygon points="322.7,198 325.9,201.2 322.7,204.4 319.5,201.2" fill="#000"/>
<polygon points="445.8,53.02 448,55 445.8,56.98 443.6,55" fill="#fff" stroke="#000" stroke-width="1"/>
<polygon points="445.8,75.62 448,77.6 445.8,79.58 443.6,77.6" fill="#fff" stroke="#000" stroke-width="1"/>
<polygon points="445.8,83.3 449,86.5 445.8,89.7 442.6,86.5" fill="#000"/>
<polygon points="445.8,113.82 448,115.8 445.8,117.78 443.6,115.8" fill="#fff" stroke="#000" stroke-width="1"/>
<polygon points="445.8,126.52 448,128.5 445.8,130.48 443.6,128.5" fill="#fff" stroke="#000" stroke-width="1"/>
<circle cx="439.9" cy="122.4" r="2.3" fill="#fff" stroke="#000" stroke-width="0.9"/>
<polygon points="445.8,150.1 449,153.3 445.8,156.5 442.6,153.3" fill="#000"/>
<polygon points="420.2,185.02 422.4,187 420.2,188.98 418,187" fill="#fff" stroke="#000" stroke-width="1"/>
<polygon points="420.2,197.92 422.4,199.9 420.2,201.88 418,199.9" fill="#fff" stroke="#000" stroke-width="1"/>
<polygon points="437.2,185.02 439.4,187 437.2,188.98 435,187" fill="#fff" stroke="#000" stroke-width="1"/>
<polygon points="437.2,197.92 439.4,199.9 437.2,201.88 435,199.9" fill="#fff" stroke="#000" stroke-width="1"/>
<polygon points="454.7,185.02 456.9,187 454.7,188.98 452.5,187" fill="#fff" stroke="#000" stroke-width="1"/>
<polygon points="454.7,197.92 456.9,199.9 454.7,201.88 452.5,199.9" fill="#fff" stroke="#000" stroke-width="1"/>
<polygon points="472.1,185.02 474.3,187 472.1,188.98 469.9,187" fill="#fff" stroke="#000" stroke-width="1"/>
<polygon points="472.1,197.92 474.3,199.9 472.1,201.88 469.9,199.9" fill="#fff" stroke="#000" stroke-width="1"/>
<polygon points="437.2,166.4 440.4,169.6 437.2,172.8 434,169.6" fill="#000"/>
<polygon points="437.2,214 440.4,217.2 437.2,220.4 434,217.2" fill="#000"/>
<polygon points="445.8,166.4 449,169.6 445.8,172.8 442.6,169.6" fill="#000"/>
<polygon points="445.8,214 449,217.2 445.8,220.4 442.6,217.2" fill="#000"/>
<polygon points="454.7,166.4 457.9,169.6 454.7,172.8 451.5,169.6" fill="#000"/>
<polygon points="454.7,214 457.9,217.2 454.7,220.4 451.5,217.2" fill="#000"/>
<polygon points="372.6,240.62 374.8,242.6 372.6,244.58 370.4,242.6" fill="#fff" stroke="#000" stroke-width="1"/>
<polygon points="389.5,240.62 391.7,242.6 389.5,244.58 387.3,242.6" fill="#fff" stroke="#000" stroke-width="1"/>
<polygon points="403.5,240.62 405.7,242.6 403.5,244.58 401.3,242.6" fill="#fff" stroke="#000" stroke-width="1"/>
<polygon points="445.8,240.62 448,242.6 445.8,244.58 443.6,242.6" fill="#fff" stroke="#000" stroke-width="1"/>
<polygon points="485,240.62 487.2,242.6 485,244.58 482.8,242.6" fill="#fff" stroke="#000" stroke-width="1"/>
<polygon points="372.8,295.22 375,297.2 372.8,299.18 370.6,297.2" fill="#fff" stroke="#000" stroke-width="1"/>
<polygon points="401.3,295.22 403.5,297.2 401.3,299.18 399.1,297.2" fill="#fff" stroke="#000" stroke-width="1"/>
<polygon points="428.8,295.22 431,297.2 428.8,299.18 426.6,297.2" fill="#fff" stroke="#000" stroke-width="1"/>
<polygon points="456.5,295.22 458.7,297.2 456.5,299.18 454.3,297.2" fill="#fff" stroke="#000" stroke-width="1"/>
<polygon points="485,295.22 487.2,297.2 485,299.18 482.8,297.2" fill="#fff" stroke="#000" stroke-width="1"/>
<polygon points="372.8,383.3 376,386.5 372.8,389.7 369.6,386.5" fill="#000"/>
<polygon points="428.8,311.9 432,315.1 428.8,318.3 425.6,315.1" fill="#000"/>
<polygon points="428.8,338.22 431,340.2 428.8,342.18 426.6,340.2" fill="#fff" stroke="#000" stroke-width="1"/>
<polygon points="428.8,351.22 431,353.2 428.8,355.18 426.6,353.2" fill="#fff" stroke="#000" stroke-width="1"/>
<polygon points="420.1,344.5 422.1,346.3 420.1,348.1 418.1,346.3" fill="#fff" stroke="#000" stroke-width="1"/>
<polygon points="428.8,386.72 431,388.7 428.8,390.68 426.6,388.7" fill="#fff" stroke="#000" stroke-width="1"/>
<polygon points="428.8,399.22 431,401.2 428.8,403.18 426.6,401.2" fill="#fff" stroke="#000" stroke-width="1"/>
<polygon points="428.8,422.1 432,425.3 428.8,428.5 425.6,425.3" fill="#000"/>
<polygon points="485,311.9 488.2,315.1 485,318.3 481.8,315.1" fill="#000"/>
<polygon points="428.8,455.82 431,457.8 428.8,459.78 426.6,457.8" fill="#fff" stroke="#000" stroke-width="1"/>
<polygon points="428.8,467.52 431,469.5 428.8,471.48 426.6,469.5" fill="#fff" stroke="#000" stroke-width="1"/>
<circle cx="423.4" cy="463.8" r="2.3" fill="#fff" stroke="#000" stroke-width="0.9"/>
<polygon points="428.8,503.1 432,506.3 428.8,509.5 425.6,506.3" fill="#000"/>
<polygon points="579.4,53.02 581.6,55 579.4,56.98 577.2,55" fill="#fff" stroke="#000" stroke-width="1"/>
<polygon points="579.4,75.62 581.6,77.6 579.4,79.58 577.2,77.6" fill="#fff" stroke="#000" stroke-width="1"/>
<polygon points="579.4,112.82 581.6,114.8 579.4,116.78 577.2,114.8" fill="#fff" stroke="#000" stroke-width="1"/>
<polygon points="579.4,125.42 581.6,127.4 579.4,129.38 577.2,127.4" fill="#fff" stroke="#000" stroke-width="1"/>
<circle cx="573.9" cy="121.2" r="2.3" fill="#fff" stroke="#000" stroke-width="0.9"/>
<polygon points="579.4,144.8 582.6,148 579.4,151.2 576.2,148" fill="#000"/>
<polygon points="579.4,162.5 582.6,165.7 579.4,168.9 576.2,165.7" fill="#000"/>
<polygon points="525.1,507.08 528.3,510.28 525.1,513.48 521.9,510.28" fill="#000"/>
<polygon points="534.8,495.8 538,499 534.8,502.2 531.6,499" fill="#000"/>
<polygon points="544.5,484.52 547.7,487.72 544.5,490.92 541.3,487.72" fill="#000"/>
<polygon points="554.3,473.24 557.5,476.44 554.3,479.64 551.1,476.44" fill="#000"/>
<polygon points="564.3,461.96 567.5,465.16 564.3,468.36 561.1,465.16" fill="#000"/>
<polygon points="574,450.68 577.2,453.88 574,457.08 570.8,453.88" fill="#000"/>
<polygon points="583.7,439.4 586.9,442.6 583.7,445.8 580.5,442.6" fill="#000"/>
<polygon points="593.8,428.12 597,431.32 593.8,434.52 590.6,431.32" fill="#000"/>
<polygon points="603.5,416.84 606.7,420.04 603.5,423.24 600.3,420.04" fill="#000"/>
<polygon points="613.2,405.56 616.4,408.76 613.2,411.96 610,408.76" fill="#000"/>
<polygon points="622.9,394.28 626.1,397.48 622.9,400.68 619.7,397.48" fill="#000"/>
<polygon points="632.3,383 635.5,386.2 632.3,389.4 629.1,386.2" fill="#000"/>
<polygon points="579.4,223.22 581.6,225.2 579.4,227.18 577.2,225.2" fill="#fff" stroke="#000" stroke-width="1"/>
<polygon points="525.1,274.42 527.3,276.4 525.1,278.38 522.9,276.4" fill="#fff" stroke="#000" stroke-width="1"/>
<polygon points="534.8,282.42 537,284.4 534.8,286.38 532.6,284.4" fill="#fff" stroke="#000" stroke-width="1"/>
<polygon points="544.5,287.82 546.7,289.8 544.5,291.78 542.3,289.8" fill="#fff" stroke="#000" stroke-width="1"/>
<polygon points="554.3,292.82 556.5,294.8 554.3,296.78 552.1,294.8" fill="#fff" stroke="#000" stroke-width="1"/>
<polygon points="564.3,295.22 566.5,297.2 564.3,299.18 562.1,297.2" fill="#fff" stroke="#000" stroke-width="1"/>
<polygon points="574,296.52 576.2,298.5 574,300.48 571.8,298.5" fill="#fff" stroke="#000" stroke-width="1"/>
<polygon points="583.7,296.52 585.9,298.5 583.7,300.48 581.5,298.5" fill="#fff" stroke="#000" stroke-width="1"/>
<polygon points="593.8,295.22 596,297.2 593.8,299.18 591.6,297.2" fill="#fff" stroke="#000" stroke-width="1"/>
<polygon points="603.5,292.82 605.7,294.8 603.5,296.78 601.3,294.8" fill="#fff" stroke="#000" stroke-width="1"/>
<polygon points="613.2,287.82 615.4,289.8 613.2,291.78 611,289.8" fill="#fff" stroke="#000" stroke-width="1"/>
<polygon points="622.9,282.42 625.1,284.4 622.9,286.38 620.7,284.4" fill="#fff" stroke="#000" stroke-width="1"/>
<polygon points="632.3,274.42 634.5,276.4 632.3,278.38 630.1,276.4" fill="#fff" stroke="#000" stroke-width="1"/>
<polygon points="632.3,282.8 635.5,286 632.3,289.2 629.1,286" fill="#000"/>
<polygon points="622.9,292.4 626.1,295.6 622.9,298.8 619.7,295.6" fill="#000"/>
<polygon points="534.8,312.1 538,315.3 534.8,318.5 531.6,315.3" fill="#000"/>
<polygon points="525.1,321.6 528.3,324.8 525.1,328 521.9,324.8" fill="#000"/>
<polygon points="632.3,347.9 635.5,351.1 632.3,354.3 629.1,351.1" fill="#000"/>
<polygon points="717.6,347.9 720.8,351.1 717.6,354.3 714.4,351.1" fill="#000"/>
<polygon points="717.6,394.62 719.8,396.6 717.6,398.58 715.4,396.6" fill="#fff" stroke="#000" stroke-width="1"/>
<polygon points="717.6,411.02 719.8,413 717.6,414.98 715.4,413" fill="#fff" stroke="#000" stroke-width="1"/>
<polygon points="717.6,442.8 720.8,446 717.6,449.2 714.4,446" fill="#000"/>
<polygon points="622.9,360.8 626.1,364 622.9,367.2 619.7,364" fill="#000"/>
<polygon points="773.9,90.72 776.1,92.7 773.9,94.68 771.7,92.7" fill="#fff" stroke="#000" stroke-width="1"/>
<polygon points="773.9,103.42 776.1,105.4 773.9,107.38 771.7,105.4" fill="#fff" stroke="#000" stroke-width="1"/>
<circle cx="768.3" cy="99" r="2.3" fill="#fff" stroke="#000" stroke-width="0.9"/>
<polygon points="773.9,132.2 777.1,135.4 773.9,138.6 770.7,135.4" fill="#000"/>
<polygon points="773.9,174.92 776.1,176.9 773.9,178.88 771.7,176.9" fill="#fff" stroke="#000" stroke-width="1"/>
<polygon points="773.9,187.02 776.1,189 773.9,190.98 771.7,189" fill="#fff" stroke="#000" stroke-width="1"/>
<g opacity="0.995">
<text transform="translate(111.5 82) scale(0.95 1)" font-size="8.4" fill="#111" stroke="#111" stroke-width="0.22" text-anchor="middle" dominant-baseline="central">72</text>
<text transform="translate(250.6 82) scale(0.95 1)" font-size="8.4" fill="#111" stroke="#111" stroke-width="0.22" text-anchor="middle" dominant-baseline="central">72</text>
<text transform="translate(158.9 45) rotate(-90)" font-size="8.4" fill="#111" stroke="#111" stroke-width="0.22" text-anchor="middle" dominant-baseline="central">933</text>
<text transform="translate(155.6 66.3) rotate(-90)" font-size="8.4" fill="#111" stroke="#111" stroke-width="0.22" text-anchor="middle" dominant-baseline="central">°72</text>
<text transform="translate(282.6 44.5) rotate(-90)" font-size="8.4" fill="#111" stroke="#111" stroke-width="0.22" text-anchor="middle" dominant-baseline="central">933</text>
<text transform="translate(279 66.3) rotate(-90)" font-size="8.4" fill="#111" stroke="#111" stroke-width="0.22" text-anchor="middle" dominant-baseline="central">°74</text>
<text transform="translate(92.1 184.2) rotate(-90)" font-size="8.4" fill="#111" stroke="#111" stroke-width="0.22" text-anchor="middle" dominant-baseline="central">°621</text>
<text transform="translate(87.4 239.6) rotate(-90)" font-size="8.4" fill="#111" stroke="#111" stroke-width="0.22" text-anchor="middle" dominant-baseline="central">°620</text>
<text transform="translate(96.7 323.6) rotate(-90)" font-size="8.4" fill="#111" stroke="#111" stroke-width="0.22" text-anchor="middle" dominant-baseline="central">620</text>
<text transform="translate(111.6 138.2) scale(0.95 1)" font-size="8.4" fill="#111" stroke="#111" stroke-width="0.22" text-anchor="middle" dominant-baseline="central">621</text>
<text transform="translate(113.6 257.3) rotate(-90)" font-size="8.4" fill="#111" stroke="#111" stroke-width="0.22" text-anchor="middle" dominant-baseline="central">°621</text>
<text transform="translate(112.3 212.7) scale(0.95 1)" font-size="8.4" fill="#111" stroke="#111" stroke-width="0.22" text-anchor="middle" dominant-baseline="central">622</text>
<text transform="translate(119.4 303.9) rotate(-90)" font-size="8.4" fill="#111" stroke="#111" stroke-width="0.22" text-anchor="middle" dominant-baseline="central">779</text>
<text transform="translate(142 302.2) scale(0.95 1)" font-size="8.4" fill="#111" stroke="#111" stroke-width="0.22" text-anchor="middle" dominant-baseline="central">Km/h</text>
<text transform="translate(146.3 310.4) scale(0.95 1)" font-size="8.4" fill="#111" stroke="#111" stroke-width="0.22" text-anchor="middle" dominant-baseline="central">12</text>
<text transform="translate(144.3 321.8) scale(0.95 1)" font-size="8.4" fill="#111" stroke="#111" stroke-width="0.22" text-anchor="middle" dominant-baseline="central">0</text>
<text transform="translate(119.4 341.9) rotate(-90)" font-size="8.4" fill="#111" stroke="#111" stroke-width="0.22" text-anchor="middle" dominant-baseline="central">620a</text>
<text transform="translate(117.5 364.7) rotate(-90)" font-size="8.4" fill="#111" stroke="#111" stroke-width="0.22" text-anchor="middle" dominant-baseline="central">2K24</text>
<text transform="translate(117.5 388) rotate(-90)" font-size="8.4" fill="#111" stroke="#111" stroke-width="0.22" text-anchor="middle" dominant-baseline="central">620ar</text>
<text transform="translate(114 408.5) rotate(-90)" font-size="8.4" fill="#111" stroke="#111" stroke-width="0.22" text-anchor="middle" dominant-baseline="central">DF5</text>
<text transform="translate(109.7 435.9) scale(0.95 1)" font-size="8.4" fill="#111" stroke="#111" stroke-width="0.22" text-anchor="middle" dominant-baseline="central">°616</text>
<text transform="translate(119.2 487.7) rotate(-90)" font-size="8.4" fill="#111" stroke="#111" stroke-width="0.22" text-anchor="middle" dominant-baseline="central">4</text>
<text transform="translate(132.3 390.8) rotate(-90)" font-size="8.4" fill="#111" stroke="#111" stroke-width="0.22" text-anchor="middle" dominant-baseline="central">366b</text>
<text transform="translate(133.5 466.7) rotate(-90)" font-size="8.4" fill="#111" stroke="#111" stroke-width="0.22" text-anchor="middle" dominant-baseline="central">366</text>
<text transform="translate(132.8 490.6) rotate(-90)" font-size="8.4" fill="#111" stroke="#111" stroke-width="0.22" text-anchor="middle" dominant-baseline="central">Stw</text>
<text transform="translate(142.7 489.4) rotate(-90)" font-size="8.4" fill="#111" stroke="#111" stroke-width="0.22" text-anchor="middle" dominant-baseline="central">346</text>
<text transform="translate(131.3 523) rotate(-90)" font-size="8.4" fill="#111" stroke="#111" stroke-width="0.22" text-anchor="middle" dominant-baseline="central">negativo</text>
<text transform="translate(142.7 522) rotate(-90)" font-size="8.4" fill="#111" stroke="#111" stroke-width="0.22" text-anchor="middle" dominant-baseline="central">traccion</text>
<text transform="translate(137.1 132.8) rotate(-90)" font-size="8.4" fill="#111" stroke="#111" stroke-width="0.22" text-anchor="middle" dominant-baseline="central">°613</text>
<text transform="translate(141.5 166.6) rotate(-90)" font-size="8.4" fill="#111" stroke="#111" stroke-width="0.22" text-anchor="middle" dominant-baseline="central">611</text>
<text transform="translate(136.2 207.5) rotate(-90)" font-size="8.4" fill="#111" stroke="#111" stroke-width="0.22" text-anchor="middle" dominant-baseline="central">°612</text>
<text transform="translate(154.7 207.5) rotate(-90)" font-size="8.4" fill="#111" stroke="#111" stroke-width="0.22" text-anchor="middle" dominant-baseline="central">°612</text>
<text transform="translate(141.5 267) rotate(-90)" font-size="8.4" fill="#111" stroke="#111" stroke-width="0.22" text-anchor="middle" dominant-baseline="central">4</text>
<text transform="translate(171.7 122.4) rotate(-90)" font-size="8.4" fill="#111" stroke="#111" stroke-width="0.22" text-anchor="middle" dominant-baseline="central">DF4</text>
<text transform="translate(177 139.1) rotate(-90)" font-size="8.4" fill="#111" stroke="#111" stroke-width="0.22" text-anchor="middle" dominant-baseline="central">72a</text>
<text transform="translate(172.5 160.4) rotate(-90)" font-size="8.4" fill="#111" stroke="#111" stroke-width="0.22" text-anchor="middle" dominant-baseline="central">2K24</text>
<text transform="translate(192.5 180.3) scale(0.95 1)" font-size="8.4" fill="#111" stroke="#111" stroke-width="0.22" text-anchor="middle" dominant-baseline="central">749</text>
<text transform="translate(170.9 221.6) rotate(-90)" font-size="8.4" fill="#111" stroke="#111" stroke-width="0.22" text-anchor="middle" dominant-baseline="central">°615</text>
<text transform="translate(176.2 245.8) rotate(-90)" font-size="8.4" fill="#111" stroke="#111" stroke-width="0.22" text-anchor="middle" dominant-baseline="central">607a</text>
<text transform="translate(170.2 271) rotate(-90)" font-size="8.4" fill="#111" stroke="#111" stroke-width="0.22" text-anchor="middle" dominant-baseline="central">°808</text>
<text transform="translate(176.2 297.6) rotate(-90)" font-size="8.4" fill="#111" stroke="#111" stroke-width="0.22" text-anchor="middle" dominant-baseline="central">366a</text>
<text transform="translate(170.9 394.3) rotate(-90)" font-size="8.4" fill="#111" stroke="#111" stroke-width="0.22" text-anchor="middle" dominant-baseline="central">2K25</text>
<text transform="translate(177.2 416.2) rotate(-90)" font-size="8.4" fill="#111" stroke="#111" stroke-width="0.22" text-anchor="middle" dominant-baseline="central">F121</text>
<text transform="translate(165.2 436.6) rotate(-90)" font-size="8.4" fill="#111" stroke="#111" stroke-width="0.22" text-anchor="middle" dominant-baseline="central">B51</text>
<text transform="translate(175.9 458.4) rotate(-90)" font-size="8.4" fill="#111" stroke="#111" stroke-width="0.22" text-anchor="middle" dominant-baseline="central">F122</text>
<text transform="translate(171.5 480.8) rotate(-90)" font-size="8.4" fill="#111" stroke="#111" stroke-width="0.22" text-anchor="middle" dominant-baseline="central">R98</text>
<text transform="translate(175.9 499.4) rotate(-90)" font-size="8.4" fill="#111" stroke="#111" stroke-width="0.22" text-anchor="middle" dominant-baseline="central">4</text>
<text transform="translate(198.5 123.9) rotate(-90)" font-size="8.4" fill="#111" stroke="#111" stroke-width="0.22" text-anchor="middle" dominant-baseline="central">608</text>
<text transform="translate(194.3 147.5) rotate(-90)" font-size="8.4" fill="#111" stroke="#111" stroke-width="0.22" text-anchor="middle" dominant-baseline="central">°612</text>
<text transform="translate(197.9 233) rotate(-90)" font-size="8.4" fill="#111" stroke="#111" stroke-width="0.22" text-anchor="middle" dominant-baseline="central">608a</text>
<text transform="translate(193.1 256) rotate(-90)" font-size="8.4" fill="#111" stroke="#111" stroke-width="0.22" text-anchor="middle" dominant-baseline="central">°808</text>
<text transform="translate(219 131) rotate(-90)" font-size="8.4" fill="#111" stroke="#111" stroke-width="0.22" text-anchor="middle" dominant-baseline="central">°615</text>
<text transform="translate(220.6 181.5) rotate(-90)" font-size="8.4" fill="#111" stroke="#111" stroke-width="0.22" text-anchor="middle" dominant-baseline="central">615</text>
<text transform="translate(234.7 264.5) rotate(-90)" font-size="8.4" fill="#111" stroke="#111" stroke-width="0.22" text-anchor="middle" dominant-baseline="central">°615</text>
<text transform="translate(240.5 234.5) rotate(-90)" font-size="8.4" fill="#111" stroke="#111" stroke-width="0.22" text-anchor="middle" dominant-baseline="central">616</text>
<text transform="translate(214.6 288) scale(0.95 1)" font-size="8.4" fill="#111" stroke="#111" stroke-width="0.22" text-anchor="middle" dominant-baseline="central">624</text>
<text transform="translate(193.1 340.4) rotate(-90)" font-size="8.4" fill="#111" stroke="#111" stroke-width="0.22" text-anchor="middle" dominant-baseline="central">°621</text>
<text transform="translate(197.9 369) rotate(-90)" font-size="8.4" fill="#111" stroke="#111" stroke-width="0.22" text-anchor="middle" dominant-baseline="central">4</text>
<text transform="translate(255.3 133) rotate(-90)" font-size="8.4" fill="#111" stroke="#111" stroke-width="0.22" text-anchor="middle" dominant-baseline="central">°808</text>
<text transform="translate(260.1 153.7) rotate(-90)" font-size="8.4" fill="#111" stroke="#111" stroke-width="0.22" text-anchor="middle" dominant-baseline="central">808</text>
<text transform="translate(260.3 211.6) rotate(-90)" font-size="8.4" fill="#111" stroke="#111" stroke-width="0.22" text-anchor="middle" dominant-baseline="central">812</text>
<text transform="translate(255 270) rotate(-90)" font-size="8.4" fill="#111" stroke="#111" stroke-width="0.22" text-anchor="middle" dominant-baseline="central">ASFA</text>
<text transform="translate(259.5 327) rotate(-90)" font-size="8.4" fill="#111" stroke="#111" stroke-width="0.22" text-anchor="middle" dominant-baseline="central">609</text>
<text transform="translate(246.4 361.4) scale(0.95 1)" font-size="8.4" fill="#111" stroke="#111" stroke-width="0.22" text-anchor="middle" dominant-baseline="central">°609</text>
<text transform="translate(406 420.3) scale(0.95 1)" font-size="8.4" fill="#111" stroke="#111" stroke-width="0.22" text-anchor="middle" dominant-baseline="central">641</text>
<text transform="translate(283.1 109) rotate(-90)" font-size="8.4" fill="#111" stroke="#111" stroke-width="0.22" text-anchor="middle" dominant-baseline="central">74</text>
<text transform="translate(277.5 133) rotate(-90)" font-size="8.4" fill="#111" stroke="#111" stroke-width="0.22" text-anchor="middle" dominant-baseline="central">°350</text>
<text transform="translate(282.3 153.7) rotate(-90)" font-size="8.4" fill="#111" stroke="#111" stroke-width="0.22" text-anchor="middle" dominant-baseline="central">350</text>
<text transform="translate(298.5 108) rotate(-90)" font-size="8.4" fill="#111" stroke="#111" stroke-width="0.22" text-anchor="middle" dominant-baseline="central">DF2</text>
<text transform="translate(302.7 153.6) rotate(-90)" font-size="8.4" fill="#111" stroke="#111" stroke-width="0.22" text-anchor="middle" dominant-baseline="central">72b</text>
<text transform="translate(290.7 206.8) scale(0.95 1)" font-size="8.4" fill="#111" stroke="#111" stroke-width="0.22" text-anchor="middle" dominant-baseline="central">B97</text>
<text transform="translate(302.6 240.2) rotate(-90)" font-size="8.4" fill="#111" stroke="#111" stroke-width="0.22" text-anchor="middle" dominant-baseline="central">F118</text>
<text transform="translate(299 263.6) rotate(-90)" font-size="8.4" fill="#111" stroke="#111" stroke-width="0.22" text-anchor="middle" dominant-baseline="central">2K25</text>
<text transform="translate(300.5 281.7) rotate(-90)" font-size="8.4" fill="#111" stroke="#111" stroke-width="0.22" text-anchor="middle" dominant-baseline="central">4</text>
<text transform="translate(338.9 111.3) scale(0.95 1)" font-size="8.4" fill="#111" stroke="#111" stroke-width="0.22" text-anchor="middle" dominant-baseline="central">B98</text>
<text transform="translate(314 174) rotate(-90)" font-size="8.4" fill="#111" stroke="#111" stroke-width="0.22" text-anchor="middle" dominant-baseline="central">R98</text>
<text transform="translate(317.5 192) rotate(-90)" font-size="8.4" fill="#111" stroke="#111" stroke-width="0.22" text-anchor="middle" dominant-baseline="central">4</text>
<text transform="translate(441.2 45) rotate(-90)" font-size="8.4" fill="#111" stroke="#111" stroke-width="0.22" text-anchor="middle" dominant-baseline="central">933</text>
<text transform="translate(437.6 65) rotate(-90)" font-size="8.4" fill="#111" stroke="#111" stroke-width="0.22" text-anchor="middle" dominant-baseline="central">°73</text>
<text transform="translate(404.8 81.3) scale(0.95 1)" font-size="8.4" fill="#111" stroke="#111" stroke-width="0.22" text-anchor="middle" dominant-baseline="central">73</text>
<text transform="translate(372.1 168.5) rotate(-90)" font-size="8.4" fill="#111" stroke="#111" stroke-width="0.22" text-anchor="middle" dominant-baseline="central">°607</text>
<text transform="translate(427.8 114.6) scale(0.95 1)" font-size="8.2" fill="#111" stroke="#111" stroke-width="0.22" text-anchor="end" dominant-baseline="central">AD</text>
<text transform="translate(427.3 122.4) scale(0.95 1)" font-size="8.2" fill="#111" stroke="#111" stroke-width="0.22" text-anchor="end" dominant-baseline="central">0</text>
<text transform="translate(427.8 129.5) scale(0.95 1)" font-size="8.2" fill="#111" stroke="#111" stroke-width="0.22" text-anchor="end" dominant-baseline="central">AT</text>
<text transform="translate(410.3 193.5) rotate(-90)" font-size="8.4" fill="#111" stroke="#111" stroke-width="0.22" text-anchor="middle" dominant-baseline="central">°603</text>
<text transform="translate(428.3 193.5) rotate(-90)" font-size="8.4" fill="#111" stroke="#111" stroke-width="0.22" text-anchor="middle" dominant-baseline="central">°604</text>
<text transform="translate(445.2 193.5) rotate(-90)" font-size="8.4" fill="#111" stroke="#111" stroke-width="0.22" text-anchor="middle" dominant-baseline="central">°605</text>
<text transform="translate(462.1 193.5) rotate(-90)" font-size="8.4" fill="#111" stroke="#111" stroke-width="0.22" text-anchor="middle" dominant-baseline="central">°301</text>
<text transform="translate(363.7 213) scale(0.95 1)" font-size="8.4" fill="#111" stroke="#111" stroke-width="0.22" text-anchor="middle" dominant-baseline="central">609</text>
<text transform="translate(384.9 223) rotate(-90)" font-size="8.4" fill="#111" stroke="#111" stroke-width="0.22" text-anchor="middle" dominant-baseline="central">607</text>
<text transform="translate(399.1 223) rotate(-90)" font-size="8.4" fill="#111" stroke="#111" stroke-width="0.22" text-anchor="middle" dominant-baseline="central">603</text>
<text transform="translate(439.9 226.8) rotate(-90)" font-size="8.4" fill="#111" stroke="#111" stroke-width="0.22" text-anchor="middle" dominant-baseline="central">604</text>
<text transform="translate(481.2 225.7) rotate(-90)" font-size="8.4" fill="#111" stroke="#111" stroke-width="0.22" text-anchor="middle" dominant-baseline="central">73</text>
<text transform="translate(372.6 249.5) scale(0.95 1)" font-size="8.4" fill="#111" stroke="#111" stroke-width="0.22" text-anchor="middle" dominant-baseline="central">4</text>
<text transform="translate(389.5 249.5) scale(0.95 1)" font-size="8.4" fill="#111" stroke="#111" stroke-width="0.22" text-anchor="middle" dominant-baseline="central">9</text>
<text transform="translate(403.5 249.5) scale(0.95 1)" font-size="8.4" fill="#111" stroke="#111" stroke-width="0.22" text-anchor="middle" dominant-baseline="central">5</text>
<text transform="translate(445.8 249.5) scale(0.95 1)" font-size="8.4" fill="#111" stroke="#111" stroke-width="0.22" text-anchor="middle" dominant-baseline="central">6</text>
<text transform="translate(485 249.5) scale(0.95 1)" font-size="8.4" fill="#111" stroke="#111" stroke-width="0.22" text-anchor="middle" dominant-baseline="central">7</text>
<text transform="translate(372.8 290.3) scale(0.95 1)" font-size="8.4" fill="#111" stroke="#111" stroke-width="0.22" text-anchor="middle" dominant-baseline="central">3</text>
<text transform="translate(401.3 290.3) scale(0.95 1)" font-size="8.4" fill="#111" stroke="#111" stroke-width="0.22" text-anchor="middle" dominant-baseline="central">11</text>
<text transform="translate(428.8 290.3) scale(0.95 1)" font-size="8.4" fill="#111" stroke="#111" stroke-width="0.22" text-anchor="middle" dominant-baseline="central">10</text>
<text transform="translate(456.5 290.3) scale(0.95 1)" font-size="8.4" fill="#111" stroke="#111" stroke-width="0.22" text-anchor="middle" dominant-baseline="central">2</text>
<text transform="translate(485 290.3) scale(0.95 1)" font-size="8.4" fill="#111" stroke="#111" stroke-width="0.22" text-anchor="middle" dominant-baseline="central">8</text>
<text transform="translate(368.5 318.6) rotate(-90)" font-size="8.4" fill="#111" stroke="#111" stroke-width="0.22" text-anchor="middle" dominant-baseline="central">606</text>
<text transform="translate(368.5 369) rotate(-90)" font-size="8.4" fill="#111" stroke="#111" stroke-width="0.22" text-anchor="middle" dominant-baseline="central">4</text>
<text transform="translate(386.5 331.3) scale(0.95 1)" font-size="8.4" fill="#111" stroke="#111" stroke-width="0.22" text-anchor="middle" dominant-baseline="central">°600a</text>
<text transform="translate(409.8 346.3) scale(0.95 1)" font-size="8.4" fill="#111" stroke="#111" stroke-width="0.22" text-anchor="middle" dominant-baseline="central">0</text>
<text transform="translate(409.8 355.9) scale(0.95 1)" font-size="8.4" fill="#111" stroke="#111" stroke-width="0.22" text-anchor="middle" dominant-baseline="central">9</text>
<text transform="translate(396.6 351.6) scale(0.95 1)" font-size="8.4" fill="#111" stroke="#111" stroke-width="0.22" text-anchor="middle" dominant-baseline="central">Km/h</text>
<text transform="translate(424.5 372.2) rotate(-90)" font-size="8.4" fill="#111" stroke="#111" stroke-width="0.22" text-anchor="middle" dominant-baseline="central">600</text>
<text transform="translate(418.8 396) rotate(-90)" font-size="8.4" fill="#111" stroke="#111" stroke-width="0.22" text-anchor="middle" dominant-baseline="central">°600a</text>
<text transform="translate(411.3 456) scale(0.95 1)" font-size="8.2" fill="#111" stroke="#111" stroke-width="0.22" text-anchor="end" dominant-baseline="central">AD</text>
<text transform="translate(410.8 463.8) scale(0.95 1)" font-size="8.2" fill="#111" stroke="#111" stroke-width="0.22" text-anchor="end" dominant-baseline="central">0</text>
<text transform="translate(411.3 470.9) scale(0.95 1)" font-size="8.2" fill="#111" stroke="#111" stroke-width="0.22" text-anchor="end" dominant-baseline="central">AT</text>
<text transform="translate(423 492.3) rotate(-90)" font-size="8.4" fill="#111" stroke="#111" stroke-width="0.22" text-anchor="middle" dominant-baseline="central">4</text>
<text transform="translate(574.4 45) rotate(-90)" font-size="8.4" fill="#111" stroke="#111" stroke-width="0.22" text-anchor="middle" dominant-baseline="central">933</text>
<text transform="translate(570.4 66.8) rotate(-90)" font-size="8.4" fill="#111" stroke="#111" stroke-width="0.22" text-anchor="middle" dominant-baseline="central">°76</text>
<text transform="translate(574 95.3) rotate(-90)" font-size="8.4" fill="#111" stroke="#111" stroke-width="0.22" text-anchor="middle" dominant-baseline="central">76</text>
<text transform="translate(561.8 113.4) scale(0.95 1)" font-size="8.2" fill="#111" stroke="#111" stroke-width="0.22" text-anchor="end" dominant-baseline="central">AD</text>
<text transform="translate(561.3 121.2) scale(0.95 1)" font-size="8.2" fill="#111" stroke="#111" stroke-width="0.22" text-anchor="end" dominant-baseline="central">0</text>
<text transform="translate(561.8 128.3) scale(0.95 1)" font-size="8.2" fill="#111" stroke="#111" stroke-width="0.22" text-anchor="end" dominant-baseline="central">AT</text>
<text transform="translate(668.5 143.2) scale(0.95 1)" font-size="8.4" fill="#111" stroke="#111" stroke-width="0.22" text-anchor="middle" dominant-baseline="central">809</text>
<text transform="translate(693.7 148.6) scale(0.95 1)" font-size="8.4" fill="#111" stroke="#111" stroke-width="0.22" text-anchor="start" dominant-baseline="central">ASFA</text>
<text transform="translate(574 156.7) rotate(-90)" font-size="8.4" fill="#111" stroke="#111" stroke-width="0.22" text-anchor="middle" dominant-baseline="central">376</text>
<text transform="translate(592.5 202) scale(0.95 1)" font-size="8.4" fill="#111" stroke="#111" stroke-width="0.22" text-anchor="middle" dominant-baseline="central">°320</text>
<text transform="translate(696.3 202) scale(0.95 1)" font-size="8.4" fill="#111" stroke="#111" stroke-width="0.22" text-anchor="middle" dominant-baseline="central">°321</text>
<text transform="translate(646 381) scale(0.95 1)" font-size="8.4" fill="#111" stroke="#111" stroke-width="0.22" text-anchor="middle" dominant-baseline="central">701</text>
<text transform="translate(646 392.28) scale(0.95 1)" font-size="8.4" fill="#111" stroke="#111" stroke-width="0.22" text-anchor="middle" dominant-baseline="central">702</text>
<text transform="translate(646 403.56) scale(0.95 1)" font-size="8.4" fill="#111" stroke="#111" stroke-width="0.22" text-anchor="middle" dominant-baseline="central">703</text>
<text transform="translate(646 414.84) scale(0.95 1)" font-size="8.4" fill="#111" stroke="#111" stroke-width="0.22" text-anchor="middle" dominant-baseline="central">704</text>
<text transform="translate(646 426.12) scale(0.95 1)" font-size="8.4" fill="#111" stroke="#111" stroke-width="0.22" text-anchor="middle" dominant-baseline="central">705</text>
<text transform="translate(646 437.4) scale(0.95 1)" font-size="8.4" fill="#111" stroke="#111" stroke-width="0.22" text-anchor="middle" dominant-baseline="central">706</text>
<text transform="translate(646 448.68) scale(0.95 1)" font-size="8.4" fill="#111" stroke="#111" stroke-width="0.22" text-anchor="middle" dominant-baseline="central">707</text>
<text transform="translate(646 459.96) scale(0.95 1)" font-size="8.4" fill="#111" stroke="#111" stroke-width="0.22" text-anchor="middle" dominant-baseline="central">708</text>
<text transform="translate(646 471.24) scale(0.95 1)" font-size="8.4" fill="#111" stroke="#111" stroke-width="0.22" text-anchor="middle" dominant-baseline="central">709</text>
<text transform="translate(646 482.52) scale(0.95 1)" font-size="8.4" fill="#111" stroke="#111" stroke-width="0.22" text-anchor="middle" dominant-baseline="central">710</text>
<text transform="translate(646 493.8) scale(0.95 1)" font-size="8.4" fill="#111" stroke="#111" stroke-width="0.22" text-anchor="middle" dominant-baseline="central">711</text>
<text transform="translate(646 505.08) scale(0.95 1)" font-size="8.4" fill="#111" stroke="#111" stroke-width="0.22" text-anchor="middle" dominant-baseline="central">712</text>
<text transform="translate(696.5 253.8) scale(0.95 1)" font-size="8.4" fill="#111" stroke="#111" stroke-width="0.22" text-anchor="middle" dominant-baseline="central">701</text>
<text transform="translate(696.5 242.8) scale(0.95 1)" font-size="8.4" fill="#111" stroke="#111" stroke-width="0.22" text-anchor="middle" dominant-baseline="central">702</text>
<text transform="translate(696.5 231.8) scale(0.95 1)" font-size="8.4" fill="#111" stroke="#111" stroke-width="0.22" text-anchor="middle" dominant-baseline="central">711</text>
<text transform="translate(696.5 220.6) scale(0.95 1)" font-size="8.4" fill="#111" stroke="#111" stroke-width="0.22" text-anchor="middle" dominant-baseline="central">712</text>
<text transform="translate(728.6 307.3) scale(0.95 1)" font-size="8" fill="#222" stroke="#222" stroke-width="0.22" text-anchor="middle" dominant-baseline="central">INDICADOR</text>
<text transform="translate(728.6 317) scale(0.95 1)" font-size="8" fill="#222" stroke="#222" stroke-width="0.22" text-anchor="middle" dominant-baseline="central">LUMINOSO</text>
<text transform="translate(712 369.7) rotate(-90)" font-size="8.4" fill="#111" stroke="#111" stroke-width="0.22" text-anchor="middle" dominant-baseline="central">701</text>
<text transform="translate(707.4 405.3) rotate(-90)" font-size="8.4" fill="#111" stroke="#111" stroke-width="0.22" text-anchor="middle" dominant-baseline="central">120</text>
<text transform="translate(712 432) rotate(-90)" font-size="8.4" fill="#111" stroke="#111" stroke-width="0.22" text-anchor="middle" dominant-baseline="central">4</text>
<text transform="translate(682.9 393.2) rotate(-90)" font-size="8.4" fill="#111" stroke="#111" stroke-width="0.22" text-anchor="middle" dominant-baseline="central">702</text>
<text transform="translate(798.4 55) scale(0.95 1)" font-size="8" fill="#111" stroke="#111" stroke-width="0.22" text-anchor="middle" dominant-baseline="central">R</text>
<text transform="translate(793.5 33.6) scale(0.95 1)" font-size="8" fill="#111" stroke="#111" stroke-width="0.22" text-anchor="start" dominant-baseline="central">°6</text>
<text transform="translate(768.3 71.9) rotate(-90)" font-size="8.4" fill="#111" stroke="#111" stroke-width="0.22" text-anchor="middle" dominant-baseline="central">660</text>
<text transform="translate(756.2 91.2) scale(0.95 1)" font-size="8.2" fill="#111" stroke="#111" stroke-width="0.22" text-anchor="end" dominant-baseline="central">AD</text>
<text transform="translate(755.7 99) scale(0.95 1)" font-size="8.2" fill="#111" stroke="#111" stroke-width="0.22" text-anchor="end" dominant-baseline="central">0</text>
<text transform="translate(756.2 106.1) scale(0.95 1)" font-size="8.2" fill="#111" stroke="#111" stroke-width="0.22" text-anchor="end" dominant-baseline="central">AT</text>
<text transform="translate(798.5 130.4) scale(0.95 1)" font-size="8" fill="#111" stroke="#111" stroke-width="0.22" text-anchor="middle" dominant-baseline="central">7</text>
<text transform="translate(798.5 141.4) scale(0.95 1)" font-size="8" fill="#111" stroke="#111" stroke-width="0.22" text-anchor="middle" dominant-baseline="central">7</text>
<text transform="translate(769.9 160.4) rotate(-90)" font-size="8.4" fill="#111" stroke="#111" stroke-width="0.22" text-anchor="middle" dominant-baseline="central">761</text>
<text transform="translate(763.6 182.6) rotate(-90)" font-size="8.4" fill="#111" stroke="#111" stroke-width="0.22" text-anchor="middle" dominant-baseline="central">°120</text>
<text transform="translate(768.8 279) rotate(-90)" font-size="8.4" fill="#111" stroke="#111" stroke-width="0.22" text-anchor="middle" dominant-baseline="central">160</text>
<rect x="802.3" y="0" width="39" height="567" fill="#fff"/>
<rect x="842" y="0" width="1" height="567" fill="#000"/>
<text transform="translate(811 550.4) scale(0.92 1)" font-size="8.6" fill="#444" text-anchor="middle" dominant-baseline="central">9</text>
<text x="292.8" y="529.3" font-family="Liberation Serif, serif" font-weight="bold" font-style="italic" font-size="15.5" fill="#111" stroke="#111" stroke-width="0.5" textLength="412" lengthAdjust="spacingAndGlyphs">Rearme de freno, Hombre muerto y Selector de motores</text>
</g>
</svg>
</body></html>
